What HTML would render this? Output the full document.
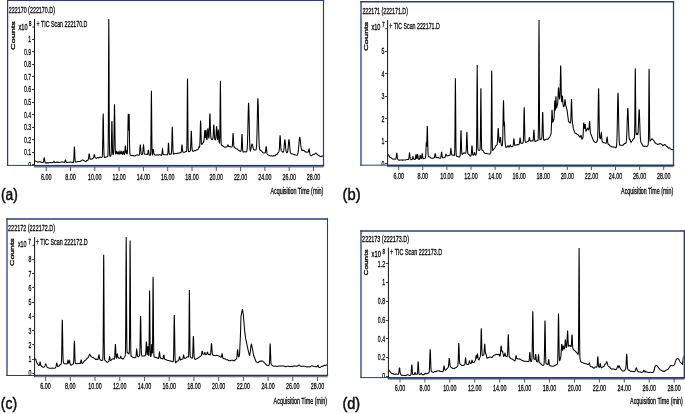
<!DOCTYPE html>
<html><head><meta charset="utf-8"><style>
html,body{margin:0;padding:0;background:#fff;width:685px;height:414px;overflow:hidden}
svg{display:block}
text{font-family:"Liberation Sans",sans-serif;stroke:#000;stroke-width:0.3px}
svg{will-change:transform}
</style></head><body>
<svg width="685" height="414" viewBox="0 0 685 414" font-family="Liberation Sans, sans-serif" fill="#111" stroke-linejoin="round">
<rect width="685" height="414" fill="#fff"/>
<clipPath id="ca"><rect x="7" y="0" width="316" height="165"/></clipPath>
<line x1="7.6" y1="-0.050000000000000044" x2="7.6" y2="165.9" stroke="#2a3d7a" stroke-width="1.25"/>
<line x1="323.5" y1="-0.050000000000000044" x2="323.5" y2="165.9" stroke="#2a3d7a" stroke-width="1.2"/>
<line x1="6.975" y1="0.5" x2="324.1" y2="0.5" stroke="#2a3d7a" stroke-width="1.1"/>
<line x1="6.975" y1="165.4" x2="324.1" y2="165.4" stroke="#2a3d7a" stroke-width="1"/>
<text x="8.70" y="12.90" font-size="9" text-anchor="start" font-weight="normal" textLength="46.30" lengthAdjust="spacingAndGlyphs">222170 (222170.D)</text>
<text transform="translate(14.50,49.80) rotate(-90)" font-size="5.9" font-weight="normal" textLength="28.50" lengthAdjust="spacingAndGlyphs">Counts</text>
<text x="18.50" y="29.60" font-size="8.6" text-anchor="start" font-weight="normal" textLength="9.00" lengthAdjust="spacingAndGlyphs" style="stroke-width:0.32px">x10</text>
<text x="29.00" y="26.00" font-size="6.4" text-anchor="start" font-weight="normal" textLength="2.40" lengthAdjust="spacingAndGlyphs" style="stroke-width:0.3px">8</text>
<text x="36.60" y="27.30" font-size="8.8" text-anchor="start" font-weight="normal" textLength="50.80" lengthAdjust="spacingAndGlyphs">+ TIC Scan 222170.D</text>
<line x1="34.5" y1="19" x2="34.5" y2="166" stroke="#111" stroke-width="1"/>
<line x1="32.2" y1="27.1" x2="34.5" y2="27.1" stroke="#111" stroke-width="0.8"/>
<line x1="32.0" y1="39.50" x2="34.5" y2="39.50" stroke="#222" stroke-width="0.9"/>
<text x="31.20" y="42.20" font-size="9" text-anchor="end" textLength="2.90" lengthAdjust="spacingAndGlyphs" clip-path="url(#ca)">1</text>
<line x1="32.0" y1="51.50" x2="34.5" y2="51.50" stroke="#222" stroke-width="0.9"/>
<text x="31.20" y="54.76" font-size="9" text-anchor="end" textLength="7.25" lengthAdjust="spacingAndGlyphs" clip-path="url(#ca)">0.9</text>
<line x1="32.0" y1="64.50" x2="34.5" y2="64.50" stroke="#222" stroke-width="0.9"/>
<text x="31.20" y="67.32" font-size="9" text-anchor="end" textLength="7.25" lengthAdjust="spacingAndGlyphs" clip-path="url(#ca)">0.8</text>
<line x1="32.0" y1="76.50" x2="34.5" y2="76.50" stroke="#222" stroke-width="0.9"/>
<text x="31.20" y="79.88" font-size="9" text-anchor="end" textLength="7.25" lengthAdjust="spacingAndGlyphs" clip-path="url(#ca)">0.7</text>
<line x1="32.0" y1="89.50" x2="34.5" y2="89.50" stroke="#222" stroke-width="0.9"/>
<text x="31.20" y="92.44" font-size="9" text-anchor="end" textLength="7.25" lengthAdjust="spacingAndGlyphs" clip-path="url(#ca)">0.6</text>
<line x1="32.0" y1="102.50" x2="34.5" y2="102.50" stroke="#222" stroke-width="0.9"/>
<text x="31.20" y="105.00" font-size="9" text-anchor="end" textLength="7.25" lengthAdjust="spacingAndGlyphs" clip-path="url(#ca)">0.5</text>
<line x1="32.0" y1="114.50" x2="34.5" y2="114.50" stroke="#222" stroke-width="0.9"/>
<text x="31.20" y="117.56" font-size="9" text-anchor="end" textLength="7.25" lengthAdjust="spacingAndGlyphs" clip-path="url(#ca)">0.4</text>
<line x1="32.0" y1="127.50" x2="34.5" y2="127.50" stroke="#222" stroke-width="0.9"/>
<text x="31.20" y="130.12" font-size="9" text-anchor="end" textLength="7.25" lengthAdjust="spacingAndGlyphs" clip-path="url(#ca)">0.3</text>
<line x1="32.0" y1="139.50" x2="34.5" y2="139.50" stroke="#222" stroke-width="0.9"/>
<text x="31.20" y="142.68" font-size="9" text-anchor="end" textLength="7.25" lengthAdjust="spacingAndGlyphs" clip-path="url(#ca)">0.2</text>
<line x1="32.0" y1="152.50" x2="34.5" y2="152.50" stroke="#222" stroke-width="0.9"/>
<text x="31.20" y="155.24" font-size="9" text-anchor="end" textLength="7.25" lengthAdjust="spacingAndGlyphs" clip-path="url(#ca)">0.1</text>
<line x1="32.0" y1="164.50" x2="34.5" y2="164.50" stroke="#222" stroke-width="0.9"/>
<text x="31.20" y="167.80" font-size="9" text-anchor="end" textLength="2.90" lengthAdjust="spacingAndGlyphs" clip-path="url(#ca)">0</text>
<line x1="34.0" y1="167.0" x2="323.5" y2="167.0" stroke="#222" stroke-opacity="0.7" stroke-width="0.9"/>
<line x1="34.0" y1="165.85" x2="324.1" y2="165.85" stroke="#22356e" stroke-width="1.5"/>
<line x1="46.22" y1="167" x2="46.22" y2="171" stroke="#444" stroke-width="0.9"/>
<text x="46.22" y="179.60" font-size="9" text-anchor="middle" font-weight="normal" textLength="10.60" lengthAdjust="spacingAndGlyphs">6.00</text>
<line x1="70.52" y1="167" x2="70.52" y2="171" stroke="#444" stroke-width="0.9"/>
<text x="70.52" y="179.60" font-size="9" text-anchor="middle" font-weight="normal" textLength="10.60" lengthAdjust="spacingAndGlyphs">8.00</text>
<line x1="94.81" y1="167" x2="94.81" y2="171" stroke="#444" stroke-width="0.9"/>
<text x="94.81" y="179.60" font-size="9" text-anchor="middle" font-weight="normal" textLength="13.40" lengthAdjust="spacingAndGlyphs">10.00</text>
<line x1="119.11" y1="167" x2="119.11" y2="171" stroke="#444" stroke-width="0.9"/>
<text x="119.11" y="179.60" font-size="9" text-anchor="middle" font-weight="normal" textLength="13.40" lengthAdjust="spacingAndGlyphs">12.00</text>
<line x1="143.40" y1="167" x2="143.40" y2="171" stroke="#444" stroke-width="0.9"/>
<text x="143.40" y="179.60" font-size="9" text-anchor="middle" font-weight="normal" textLength="13.40" lengthAdjust="spacingAndGlyphs">14.00</text>
<line x1="167.70" y1="167" x2="167.70" y2="171" stroke="#444" stroke-width="0.9"/>
<text x="167.70" y="179.60" font-size="9" text-anchor="middle" font-weight="normal" textLength="13.40" lengthAdjust="spacingAndGlyphs">16.00</text>
<line x1="192.00" y1="167" x2="192.00" y2="171" stroke="#444" stroke-width="0.9"/>
<text x="192.00" y="179.60" font-size="9" text-anchor="middle" font-weight="normal" textLength="13.40" lengthAdjust="spacingAndGlyphs">18.00</text>
<line x1="216.29" y1="167" x2="216.29" y2="171" stroke="#444" stroke-width="0.9"/>
<text x="216.29" y="179.60" font-size="9" text-anchor="middle" font-weight="normal" textLength="13.40" lengthAdjust="spacingAndGlyphs">20.00</text>
<line x1="240.59" y1="167" x2="240.59" y2="171" stroke="#444" stroke-width="0.9"/>
<text x="240.59" y="179.60" font-size="9" text-anchor="middle" font-weight="normal" textLength="13.40" lengthAdjust="spacingAndGlyphs">22.00</text>
<line x1="264.88" y1="167" x2="264.88" y2="171" stroke="#444" stroke-width="0.9"/>
<text x="264.88" y="179.60" font-size="9" text-anchor="middle" font-weight="normal" textLength="13.40" lengthAdjust="spacingAndGlyphs">24.00</text>
<line x1="289.18" y1="167" x2="289.18" y2="171" stroke="#444" stroke-width="0.9"/>
<text x="289.18" y="179.60" font-size="9" text-anchor="middle" font-weight="normal" textLength="13.40" lengthAdjust="spacingAndGlyphs">26.00</text>
<line x1="313.48" y1="167" x2="313.48" y2="171" stroke="#444" stroke-width="0.9"/>
<text x="313.48" y="179.60" font-size="9" text-anchor="middle" font-weight="normal" textLength="13.40" lengthAdjust="spacingAndGlyphs">28.00</text>
<text x="270.40" y="194.40" font-size="8.4" text-anchor="start" font-weight="normal" textLength="53.00" lengthAdjust="spacingAndGlyphs">Acquisition Time (min)</text>
<text x="0.90" y="199.60" font-size="16" style="stroke-width:0.45px" textLength="16.90" lengthAdjust="spacingAndGlyphs">(a)</text>
<polyline fill="none" stroke="#000" stroke-width="1.05" stroke-linejoin="miter" stroke-miterlimit="3" points="35.00,160.84 35.20,160.95 35.40,161.05 35.60,161.15 35.80,161.26 36.00,161.36 36.20,161.45 36.40,161.53 36.60,161.61 36.80,161.69 37.00,161.77 37.20,161.85 37.40,161.91 37.60,161.97 37.80,162.03 38.00,162.09 38.20,162.15 38.40,162.14 38.60,162.05 38.80,161.97 39.00,161.88 39.20,161.80 39.40,161.71 39.60,161.73 39.80,161.75 40.00,161.77 40.20,161.80 40.40,161.82 40.60,161.89 40.80,162.00 41.00,162.12 41.20,162.24 41.40,162.36 41.60,162.48 41.80,162.46 42.00,162.45 42.20,162.43 42.40,162.42 42.60,162.40 42.80,162.40 43.00,162.39 43.20,162.27 43.40,161.88 43.60,161.04 43.80,159.78 44.00,158.53 44.20,158.00 44.40,158.55 44.60,159.81 44.80,161.11 45.00,162.03 45.20,162.56 45.40,162.82 45.60,162.97 45.80,163.08 46.00,163.20 46.20,163.08 46.40,162.96 46.60,162.84 46.80,162.72 47.00,162.60 47.20,162.60 47.40,162.72 47.60,162.85 47.80,162.97 48.00,163.10 48.20,163.22 48.40,163.07 48.60,162.92 48.80,162.78 49.00,162.63 49.20,162.48 49.40,162.41 49.60,162.43 49.80,162.46 50.00,162.48 50.20,162.50 50.40,162.52 50.60,162.57 50.80,162.62 51.00,162.66 51.20,162.71 51.40,162.76 51.60,162.76 51.80,162.72 52.00,162.68 52.20,162.62 52.40,162.57 52.60,162.51 52.80,162.50 53.00,162.48 53.20,162.43 53.40,162.25 53.60,161.88 53.80,161.41 54.00,161.20 54.20,161.45 54.40,161.94 54.60,162.33 54.80,162.52 55.00,162.57 55.20,162.58 55.40,162.58 55.60,162.57 55.80,162.57 56.00,162.51 56.20,162.38 56.40,162.26 56.60,162.13 56.80,162.00 57.00,161.88 57.20,161.98 57.40,162.08 57.60,162.19 57.80,162.29 58.00,162.40 58.20,162.43 58.40,162.38 58.60,162.34 58.80,162.29 59.00,162.24 59.20,162.19 59.40,162.21 59.60,162.23 59.80,162.25 60.00,162.26 60.20,162.28 60.40,162.27 60.60,162.24 60.80,162.20 61.00,162.16 61.20,162.13 61.40,162.09 61.60,162.08 61.80,162.06 62.00,162.05 62.20,162.04 62.40,162.02 62.60,162.03 62.80,162.06 63.00,162.09 63.20,162.15 63.40,162.20 63.60,162.26 63.80,162.30 64.00,162.34 64.20,162.36 64.40,162.35 64.60,162.24 64.80,161.91 65.00,161.29 65.20,160.53 65.40,159.99 65.50,159.92 65.60,160.01 65.80,160.60 66.00,161.42 66.20,162.07 66.40,162.44 66.60,162.60 66.80,162.66 67.00,162.64 67.20,162.57 67.40,162.49 67.60,162.41 67.80,162.33 68.00,162.26 68.20,162.27 68.40,162.29 68.60,162.31 68.80,162.33 69.00,162.34 69.20,162.32 69.40,162.26 69.60,162.19 69.80,162.13 70.00,162.06 70.20,162.00 70.40,162.05 70.60,162.09 70.80,162.14 71.00,162.18 71.20,162.23 71.40,162.24 71.60,162.23 71.80,162.21 72.00,162.20 72.20,162.15 72.40,162.11 72.60,162.20 72.80,162.30 73.00,162.39 73.20,162.44 73.40,162.31 73.60,161.43 73.80,158.89 74.00,154.21 74.20,148.93 74.40,146.48 74.60,148.81 74.80,153.99 75.00,158.56 75.20,161.00 75.40,161.84 75.60,162.02 75.80,162.02 76.00,162.00 76.20,161.98 76.40,161.96 76.60,161.94 76.80,161.91 77.00,161.83 77.20,161.74 77.40,161.66 77.60,161.57 77.80,161.49 78.00,161.45 78.20,161.48 78.40,161.51 78.60,161.53 78.80,161.56 79.00,161.58 79.20,161.57 79.40,161.56 79.60,161.55 79.80,161.54 80.00,161.54 80.20,161.45 80.40,161.33 80.60,161.20 80.80,161.08 81.00,160.95 81.20,160.81 81.40,160.68 81.60,160.54 81.80,160.38 82.00,160.21 82.20,160.03 82.40,159.94 82.60,159.93 82.80,159.94 83.00,159.99 83.20,160.19 83.40,160.43 83.60,160.50 83.80,160.58 84.00,160.67 84.20,160.75 84.40,160.81 84.60,160.93 84.80,161.11 85.00,161.28 85.20,161.45 85.40,161.61 85.60,161.76 85.80,161.68 86.00,161.60 86.20,161.30 86.40,161.01 86.60,160.71 86.80,160.53 87.00,160.48 87.20,160.43 87.40,160.37 87.60,160.32 87.80,160.25 88.00,159.96 88.20,159.65 88.40,159.00 88.60,157.78 88.80,156.02 89.00,154.36 89.20,153.69 89.40,154.38 89.60,155.99 89.80,157.63 90.00,158.74 90.20,159.20 90.40,159.33 90.60,159.32 90.80,159.26 91.00,159.20 91.20,159.13 91.40,159.11 91.60,159.10 91.80,159.08 92.00,159.07 92.20,159.05 92.40,158.87 92.60,158.69 92.80,158.51 93.00,158.31 93.20,158.14 93.40,157.88 93.60,157.41 93.80,156.56 94.00,155.53 94.20,154.78 94.30,154.68 94.40,154.78 94.60,155.47 94.80,156.44 95.00,157.22 95.20,157.63 95.40,157.77 95.60,157.84 95.80,157.94 96.00,158.03 96.20,158.12 96.40,158.21 96.60,158.31 96.80,158.16 97.00,158.01 97.20,157.87 97.40,157.72 97.60,157.57 97.80,157.54 98.00,157.61 98.20,157.68 98.40,157.76 98.60,157.83 98.80,157.90 99.00,157.76 99.20,157.61 99.40,157.46 99.60,157.32 99.80,157.17 100.00,157.12 100.20,157.20 100.40,157.28 100.60,157.35 100.80,157.43 101.00,157.51 101.20,157.51 101.40,157.51 101.60,157.51 101.80,157.50 102.00,157.40 102.20,156.77 102.40,154.28 102.60,147.38 102.80,134.60 103.00,120.12 103.20,113.48 103.40,120.11 103.60,134.57 103.80,147.35 104.00,154.24 104.20,156.72 104.40,157.32 104.60,157.39 104.80,157.37 105.00,157.34 105.20,157.24 105.40,157.15 105.60,157.12 105.80,157.08 106.00,157.04 106.20,157.01 106.40,156.97 106.60,156.92 106.80,156.86 107.00,156.79 107.20,156.72 107.40,156.65 107.60,156.57 107.80,156.27 108.00,154.09 108.20,142.49 108.40,106.69 108.60,49.65 108.80,18.67 109.00,49.66 109.20,106.65 109.40,142.40 109.60,153.95 109.80,156.07 110.00,156.26 110.20,156.22 110.40,156.16 110.60,156.10 110.80,155.96 111.00,155.28 111.20,152.65 111.40,145.54 111.60,133.46 111.80,122.80 111.90,121.09 112.00,122.62 112.20,133.03 112.40,144.86 112.60,151.72 112.80,154.10 113.00,154.58 113.20,154.57 113.40,154.23 113.60,152.72 113.80,147.75 114.00,136.45 114.20,119.81 114.40,106.34 114.50,104.30 114.60,106.25 114.80,119.54 115.00,136.06 115.20,147.34 115.40,152.25 115.60,153.68 115.80,153.90 116.00,153.54 116.20,152.68 116.40,151.49 116.60,150.93 116.80,151.53 117.00,152.69 117.20,153.52 117.40,153.85 117.60,153.68 117.80,153.14 118.00,152.36 118.20,151.98 118.40,152.41 118.60,153.24 118.80,153.89 119.00,154.19 119.20,154.19 119.40,153.86 119.60,153.03 119.80,151.86 120.00,151.20 120.20,151.67 120.40,152.75 120.60,153.57 120.80,153.89 121.00,153.77 121.20,153.12 121.40,152.15 121.60,151.71 121.80,152.38 122.00,153.47 122.20,154.12 122.40,154.30 122.60,154.16 122.80,153.67 123.00,152.61 123.20,151.38 123.40,150.80 123.60,151.58 123.80,153.00 124.00,154.04 124.20,154.44 124.40,154.35 124.60,153.81 124.80,152.37 125.00,149.73 125.20,146.77 125.40,145.53 125.60,147.00 125.80,150.06 126.00,152.78 126.20,152.98 126.40,151.19 126.60,150.28 126.80,151.30 127.00,153.23 127.20,154.32 127.40,152.01 127.60,146.36 127.80,136.35 128.00,124.03 128.20,115.15 128.30,113.89 128.40,115.20 128.60,124.10 128.80,130.37 129.00,116.24 129.10,113.95 129.20,116.13 129.40,130.05 129.60,144.70 129.80,152.36 130.00,154.69 130.20,155.14 130.40,155.22 130.60,155.26 130.80,155.31 131.00,155.37 131.20,155.43 131.40,155.49 131.60,155.55 131.80,155.61 132.00,155.58 132.20,155.55 132.40,155.52 132.60,155.49 132.80,155.47 133.00,155.49 133.20,155.58 133.40,155.66 133.60,155.75 133.80,155.83 134.00,155.91 134.20,155.92 134.40,155.92 134.60,155.92 134.80,155.93 135.00,155.93 135.20,155.85 135.40,155.71 135.60,155.58 135.80,155.44 136.00,155.30 136.20,155.16 136.40,155.11 136.60,155.05 136.80,155.00 137.00,154.94 137.20,154.89 137.40,154.88 137.60,154.91 137.80,154.94 138.00,154.97 138.20,155.01 138.40,155.04 138.60,155.12 138.80,155.20 139.00,155.24 139.20,155.14 139.40,154.64 139.60,153.21 139.80,150.58 140.00,147.40 140.20,145.05 140.30,144.65 140.40,144.88 140.60,146.89 140.80,149.93 141.00,152.40 141.20,153.81 141.40,154.41 141.60,154.61 141.80,154.62 142.00,154.55 142.20,154.44 142.40,154.21 142.60,153.60 142.80,152.25 143.00,150.07 143.20,147.37 143.40,145.44 143.50,145.19 143.60,145.51 143.80,147.59 144.00,150.36 144.20,152.52 144.40,153.71 144.60,154.14 144.80,154.21 145.00,154.16 145.20,154.18 145.40,154.19 145.60,154.20 145.80,154.21 146.00,154.22 146.20,154.25 146.40,154.29 146.60,154.32 146.80,154.36 147.00,154.40 147.20,154.42 147.40,154.46 147.60,154.27 147.80,153.58 148.00,152.19 148.20,150.61 148.40,149.92 148.60,150.74 148.80,152.49 149.00,154.03 149.20,154.89 149.40,155.23 149.60,155.31 149.80,155.34 150.00,155.35 150.20,155.34 150.40,155.23 150.60,154.22 150.80,148.79 151.00,132.05 151.20,105.39 151.40,90.87 151.60,105.27 151.80,131.92 152.00,148.64 152.20,154.07 152.40,154.41 152.60,153.36 152.80,151.70 153.00,150.01 153.20,149.24 153.40,149.83 153.60,151.34 153.80,152.88 154.00,153.98 154.20,154.51 154.40,154.70 154.60,154.75 154.80,154.76 155.00,154.81 155.20,154.89 155.40,154.97 155.60,155.06 155.80,155.14 156.00,155.23 156.20,155.13 156.40,155.04 156.60,154.95 156.80,154.86 157.00,154.76 157.20,154.76 157.40,154.86 157.60,154.96 157.80,155.05 158.00,155.15 158.20,155.25 158.40,155.13 158.60,155.01 158.80,154.89 159.00,154.77 159.20,154.64 159.40,154.61 159.60,154.67 159.80,154.73 160.00,154.79 160.20,154.84 160.40,154.90 160.60,155.00 160.80,155.10 161.00,155.19 161.20,155.29 161.40,155.37 161.60,155.27 161.80,154.73 162.00,153.40 162.20,151.20 162.40,149.25 162.50,148.91 162.60,149.15 162.80,150.99 163.00,153.07 163.20,154.29 163.40,154.71 163.60,154.80 163.80,154.80 164.00,154.79 164.20,154.78 164.40,154.77 164.60,154.76 164.80,154.75 165.00,154.77 165.20,154.77 165.40,154.77 165.60,154.77 165.80,154.77 166.00,154.78 166.20,154.80 166.40,154.81 166.60,154.83 166.80,154.85 167.00,154.86 167.20,154.78 167.40,154.67 167.60,154.39 167.80,153.47 168.00,151.01 168.20,146.93 168.40,143.41 168.50,142.88 168.60,143.47 168.80,147.12 169.00,151.25 169.20,153.68 169.40,154.40 169.60,154.47 169.80,154.38 170.00,154.26 170.20,154.13 170.40,154.10 170.60,154.18 170.80,154.25 171.00,154.30 171.20,154.21 171.40,153.48 171.60,150.71 171.80,144.50 172.00,135.39 172.20,128.03 172.30,126.90 172.40,127.94 172.60,135.18 172.80,144.24 173.00,150.39 173.20,153.11 173.40,153.94 173.60,154.14 173.80,154.04 174.00,153.91 174.20,153.78 174.40,153.65 174.60,153.52 174.80,153.47 175.00,153.49 175.20,153.49 175.40,153.49 175.60,153.48 175.80,153.48 176.00,153.46 176.20,153.44 176.40,153.42 176.60,153.41 176.80,153.39 177.00,153.36 177.20,153.33 177.40,153.29 177.60,153.26 177.80,153.22 178.00,153.19 178.20,153.16 178.40,153.14 178.60,153.11 178.80,153.09 179.00,153.06 179.20,153.01 179.40,152.94 179.60,152.86 179.80,152.79 180.00,152.71 180.20,152.67 180.40,152.69 180.60,152.72 180.80,152.72 181.00,152.64 181.20,152.21 181.40,150.94 181.60,148.56 181.80,145.87 182.00,144.61 182.20,145.76 182.40,148.34 182.60,150.60 182.80,151.78 183.00,152.17 183.20,152.22 183.40,152.17 183.60,152.15 183.80,152.16 184.00,152.18 184.20,152.19 184.40,152.20 184.60,152.22 184.80,152.09 185.00,151.96 185.20,151.83 185.40,151.71 185.60,151.58 185.80,151.53 186.00,151.57 186.20,151.60 186.40,151.61 186.60,151.26 186.80,148.51 187.00,136.86 187.20,110.53 187.40,83.11 187.50,78.59 187.60,83.09 187.80,110.46 188.00,136.77 188.20,148.40 188.40,151.21 188.60,151.60 188.80,151.65 189.00,151.66 189.20,151.55 189.40,151.45 189.60,151.34 189.80,151.24 190.00,151.11 190.20,150.92 190.40,150.31 190.60,148.31 190.80,143.78 191.00,137.12 191.20,131.75 191.30,130.94 191.40,131.73 191.60,137.06 191.80,143.68 192.00,148.17 192.20,150.12 192.40,150.75 192.60,150.96 192.80,151.06 193.00,151.15 193.20,151.24 193.40,151.32 193.60,151.16 193.80,151.00 194.00,150.84 194.20,150.68 194.40,150.51 194.60,150.46 194.80,150.53 195.00,150.59 195.20,150.61 195.40,150.62 195.60,150.64 195.80,150.47 196.00,150.30 196.20,150.14 196.40,149.97 196.60,149.81 196.80,149.71 197.00,149.70 197.20,149.68 197.40,149.67 197.60,149.65 197.80,149.63 198.00,149.57 198.20,149.23 198.40,148.64 198.60,147.78 198.80,147.00 198.90,146.81 199.00,146.72 199.20,146.93 199.40,147.22 199.60,146.97 199.80,145.16 200.00,140.77 200.20,133.12 200.40,124.49 200.60,120.42 200.80,124.09 201.00,132.32 201.20,139.51 201.40,143.21 201.60,144.34 201.80,144.38 202.00,144.12 202.20,143.81 202.40,143.59 202.60,143.36 202.80,143.13 203.00,142.91 203.20,142.68 203.40,142.42 203.60,142.08 203.80,141.47 204.00,140.20 204.20,137.99 204.40,134.74 204.60,131.65 204.80,130.33 205.00,131.64 205.20,134.73 205.40,137.88 205.60,136.22 205.80,131.91 206.00,129.73 206.20,131.59 206.40,135.59 206.60,138.69 206.80,140.03 207.00,139.50 207.20,137.83 207.40,134.96 207.60,131.47 207.80,128.91 207.90,128.49 208.00,128.77 208.20,131.06 208.40,134.30 208.60,136.90 208.80,138.32 209.00,137.15 209.20,133.63 209.40,127.42 209.60,119.80 209.80,114.29 209.90,113.49 210.00,114.21 210.20,119.68 210.40,127.26 210.60,133.43 210.80,136.91 211.00,138.36 211.20,138.88 211.40,139.06 211.60,139.15 211.80,139.22 212.00,139.29 212.20,139.39 212.40,139.49 212.60,139.48 212.80,139.11 213.00,137.85 213.20,135.09 213.40,130.75 213.60,126.49 213.80,124.66 214.00,126.41 214.20,130.58 214.40,134.86 214.60,137.76 214.80,139.16 215.00,139.66 215.20,139.83 215.40,139.74 215.60,139.39 215.80,138.19 216.00,135.60 216.20,131.67 216.40,127.83 216.60,126.25 216.80,128.01 217.00,132.04 217.20,136.16 217.40,138.95 217.60,139.89 217.80,137.52 218.00,133.42 218.20,130.00 218.30,129.55 218.40,130.21 218.60,134.05 218.80,138.44 219.00,141.19 219.20,142.39 219.40,142.86 219.60,142.24 219.80,137.28 220.00,121.00 220.20,94.93 220.40,80.85 220.60,95.29 220.80,121.71 221.00,138.40 221.20,143.85 221.40,144.96 221.60,145.21 221.80,145.36 222.00,145.51 222.20,145.62 222.40,145.72 222.60,145.83 222.80,145.94 223.00,146.05 223.20,146.19 223.40,146.36 223.60,146.53 223.80,146.70 224.00,146.88 224.20,147.05 224.40,147.11 224.60,147.16 224.80,147.22 225.00,147.27 225.20,147.17 225.40,147.11 225.60,147.08 225.80,147.06 226.00,147.04 226.20,147.02 226.40,146.99 226.60,146.93 226.80,146.85 227.00,146.73 227.20,146.51 227.40,146.10 227.60,145.58 227.80,145.13 228.00,144.96 228.20,145.22 228.40,145.77 228.60,146.33 228.80,146.62 229.00,146.73 229.20,146.73 229.40,146.69 229.60,146.64 229.80,146.61 230.00,146.61 230.20,146.71 230.40,146.80 230.60,146.89 230.80,146.98 231.00,146.98 231.20,146.98 231.40,146.97 231.60,146.97 231.80,146.95 232.00,146.88 232.20,146.49 232.40,145.14 232.60,142.03 232.80,137.42 233.00,133.72 233.10,133.18 233.20,133.76 233.40,137.53 233.60,142.20 233.80,145.38 234.00,146.80 234.20,147.28 234.40,147.48 234.60,147.61 234.80,147.72 235.00,147.83 235.20,148.00 235.40,148.15 235.60,148.30 235.80,148.46 236.00,148.61 236.20,148.76 236.40,148.86 236.60,148.91 236.80,148.96 237.00,149.01 237.20,149.06 237.40,149.12 237.60,149.34 237.80,149.56 238.00,149.78 238.20,150.00 238.40,150.22 238.60,150.38 238.80,150.48 239.00,150.59 239.20,150.69 239.40,150.79 239.60,150.90 239.80,151.02 240.00,151.14 240.20,151.19 240.40,151.25 240.60,151.29 240.80,151.28 241.00,151.04 241.20,150.06 241.40,147.35 241.60,142.30 241.80,136.58 242.00,134.11 242.20,136.88 242.40,142.75 242.60,147.95 242.80,150.82 243.00,151.85 243.20,152.04 243.40,152.03 243.60,151.98 243.80,151.93 244.00,151.87 244.20,151.86 244.40,151.85 244.60,151.83 244.80,151.82 245.00,151.81 245.20,151.81 245.40,151.84 245.60,151.87 245.80,151.89 246.00,151.92 246.20,151.93 246.40,151.83 246.60,151.64 246.80,151.22 247.00,150.30 247.20,148.40 247.40,145.00 247.60,139.49 247.80,131.62 248.00,122.10 248.20,112.63 248.40,105.58 248.60,102.89 248.80,105.54 249.00,112.70 249.20,122.28 249.40,131.91 249.60,139.89 249.80,145.49 250.00,148.91 250.20,150.64 250.40,150.97 250.60,150.29 250.80,149.44 251.00,148.42 251.20,147.28 251.40,146.14 251.60,145.16 251.80,144.43 252.00,144.06 252.20,144.13 252.40,144.61 252.60,145.38 252.80,146.31 253.00,147.29 253.20,148.16 253.40,148.86 253.60,149.35 253.80,149.67 254.00,149.86 254.20,149.97 254.40,150.01 254.60,150.01 254.80,149.99 255.00,149.95 255.20,149.98 255.40,150.00 255.60,150.00 255.80,149.94 256.00,149.73 256.20,149.17 256.40,147.85 256.60,145.20 256.80,140.52 257.00,133.37 257.20,123.97 257.40,113.55 257.60,104.39 257.80,98.98 257.90,98.25 258.00,98.96 258.20,104.31 258.40,113.45 258.60,123.91 258.80,133.39 259.00,140.63 259.20,145.40 259.40,148.14 259.60,149.33 259.80,149.78 260.00,149.86 260.20,149.99 260.40,150.07 260.60,150.19 260.80,150.39 261.00,150.58 261.20,150.77 261.40,150.96 261.60,151.15 261.80,151.45 262.00,151.75 262.20,151.92 262.40,152.09 262.60,152.25 262.80,152.40 263.00,152.53 263.20,152.65 263.40,152.78 263.60,152.90 263.80,153.03 264.00,153.00 264.20,152.96 264.40,152.93 264.60,152.89 264.80,152.85 265.00,152.84 265.20,152.78 265.40,152.27 265.60,151.02 265.80,149.07 266.00,147.16 266.20,146.33 266.40,147.28 266.60,149.44 266.80,151.65 267.00,153.15 267.20,153.94 267.40,154.33 267.60,154.54 267.80,154.70 268.00,154.84 268.20,154.98 268.40,155.05 268.60,155.11 268.80,155.18 269.00,155.24 269.20,155.31 269.40,155.41 269.60,155.54 269.80,155.68 270.00,155.82 270.20,155.87 270.40,155.93 270.60,155.90 270.80,155.87 271.00,155.83 271.20,155.80 271.40,155.77 271.60,155.80 271.80,155.88 272.00,155.96 272.20,156.04 272.40,156.12 272.60,156.20 272.80,156.09 273.00,155.97 273.20,155.86 273.40,155.75 273.60,155.63 273.80,155.61 274.00,155.68 274.20,155.74 274.40,155.81 274.60,155.88 274.80,155.95 275.00,155.90 275.20,155.63 275.40,155.36 275.60,155.09 275.80,154.82 276.00,154.66 276.20,154.61 276.40,154.57 276.60,154.52 276.80,154.47 277.00,154.43 277.20,154.12 277.40,153.80 277.60,153.49 277.80,153.18 278.00,152.87 278.20,152.55 278.40,152.33 278.60,152.10 278.80,151.81 279.00,151.33 279.20,150.28 279.40,147.91 279.60,144.00 279.80,139.27 280.00,135.76 280.10,135.36 280.20,135.87 280.40,139.13 280.60,143.62 280.80,147.30 281.00,149.43 281.20,150.39 281.40,150.78 281.60,151.03 281.80,151.22 282.00,151.40 282.20,151.59 282.40,151.77 282.60,151.95 282.80,152.13 283.00,152.28 283.20,152.18 283.40,151.89 283.60,151.27 283.80,150.15 284.00,148.40 284.20,146.10 284.40,143.55 284.60,141.32 284.80,140.02 284.90,139.87 285.00,140.07 285.20,141.45 285.40,143.76 285.60,146.40 285.80,148.79 286.00,150.52 286.20,151.64 286.40,152.25 286.60,152.53 286.80,152.63 287.00,152.62 287.20,152.52 287.40,152.28 287.60,151.77 287.80,150.83 288.00,149.30 288.20,147.17 288.40,144.59 288.60,142.02 288.80,140.11 289.00,139.43 289.20,140.21 289.40,142.21 289.60,144.86 289.80,147.54 290.00,149.76 290.20,151.34 290.40,152.38 290.60,152.99 290.80,153.33 291.00,153.53 291.20,153.72 291.40,153.80 291.60,153.78 291.80,153.75 292.00,153.73 292.20,153.71 292.40,153.68 292.60,153.79 292.80,153.89 293.00,154.00 293.20,154.10 293.40,154.21 293.60,154.30 293.80,154.39 294.00,154.48 294.20,154.56 294.40,154.65 294.60,154.74 294.80,154.82 295.00,154.91 295.20,154.91 295.40,154.91 295.60,154.91 295.80,154.95 296.00,155.03 296.20,155.11 296.40,155.18 296.60,155.25 296.80,155.32 297.00,155.33 297.20,155.09 297.40,154.79 297.60,154.38 297.80,153.80 298.00,152.89 298.20,151.56 298.40,149.83 298.60,147.71 298.80,145.28 299.00,142.72 299.20,140.47 299.40,138.69 299.60,137.64 299.70,137.44 299.80,137.47 300.00,138.20 300.20,139.67 300.40,141.54 300.60,143.55 300.80,145.44 301.00,147.02 301.20,148.20 301.40,149.20 301.60,149.85 301.80,150.25 302.00,150.48 302.20,150.59 302.40,150.54 302.60,150.37 302.80,150.18 303.00,149.98 303.20,150.11 303.40,150.24 303.60,150.39 303.80,150.54 304.00,150.69 304.20,150.84 304.40,150.99 304.60,151.19 304.80,151.44 305.00,151.69 305.20,151.74 305.40,151.79 305.60,151.84 305.80,151.92 306.00,152.01 306.20,152.09 306.40,152.18 306.60,152.26 306.80,152.28 307.00,152.23 307.20,152.19 307.40,152.14 307.60,152.09 307.80,152.03 308.00,151.92 308.20,151.91 308.40,151.53 308.60,150.69 308.80,149.61 309.00,148.90 309.10,148.89 309.20,149.15 309.40,150.37 309.60,151.95 309.80,153.28 310.00,154.15 310.20,154.67 310.40,155.02 310.60,155.31 310.80,155.58 311.00,155.84 311.20,155.71 311.40,155.59 311.60,155.46 311.80,155.33 312.00,155.21 312.20,155.08 312.40,154.94 312.60,154.81 312.80,154.67 313.00,154.54 313.20,154.40 313.40,154.31 313.60,154.26 313.80,154.21 314.00,154.15 314.20,154.15 314.40,154.15 314.60,153.98 314.80,153.80 315.00,153.63 315.20,153.45 315.40,153.27 315.60,153.17 315.80,153.15 316.00,153.12 316.20,153.36 316.40,153.59 316.60,153.83 316.80,154.00 317.00,154.17 317.20,154.35 317.40,154.52 317.60,154.70 317.80,154.85 318.00,154.99 318.20,155.08 318.40,155.18 318.60,155.28 318.80,155.37 319.00,155.54 319.20,155.70 319.40,155.87 319.60,156.03 319.80,156.20 320.00,156.39 320.20,156.44 320.40,156.48 320.60,156.53 320.80,156.58 321.00,156.63 321.20,156.52 321.40,156.41 321.60,156.30 321.80,156.19 322.00,156.09 322.20,156.02 322.40,155.99 322.60,155.95 322.80,155.92 323.00,155.89" clip-path="url(#cap)"/>
<clipPath id="cap"><rect x="34.5" y="19" width="288.5" height="146.5"/></clipPath>
<clipPath id="cb"><rect x="361" y="1" width="312" height="164"/></clipPath>
<line x1="361.0" y1="1.1" x2="361.0" y2="165.7" stroke="#2a3d7a" stroke-width="1.3"/>
<line x1="673.5" y1="1.1" x2="673.5" y2="165.7" stroke="#2a3d7a" stroke-width="1.3"/>
<line x1="360.35" y1="1.75" x2="674.15" y2="1.75" stroke="#2a3d7a" stroke-width="1.3"/>
<line x1="360.35" y1="165.2" x2="674.15" y2="165.2" stroke="#2a3d7a" stroke-width="1"/>
<text x="362.40" y="14.00" font-size="9" text-anchor="start" font-weight="normal" textLength="45.50" lengthAdjust="spacingAndGlyphs">222171 (222171.D)</text>
<text transform="translate(367.70,50.80) rotate(-90)" font-size="5.9" font-weight="normal" textLength="29.00" lengthAdjust="spacingAndGlyphs">Counts</text>
<text x="371.40" y="30.30" font-size="8.6" text-anchor="start" font-weight="normal" textLength="9.00" lengthAdjust="spacingAndGlyphs" style="stroke-width:0.32px">x10</text>
<text x="382.00" y="26.50" font-size="6.6" text-anchor="start" font-weight="normal" textLength="2.70" lengthAdjust="spacingAndGlyphs" style="stroke-width:0.3px">7</text>
<text x="389.20" y="28.80" font-size="8.8" text-anchor="start" font-weight="normal" textLength="50.60" lengthAdjust="spacingAndGlyphs">+ TIC Scan 222171.D</text>
<line x1="387.6" y1="20.1" x2="387.6" y2="166" stroke="#111" stroke-width="1"/>
<line x1="385.3" y1="28.7" x2="387.6" y2="28.7" stroke="#111" stroke-width="0.8"/>
<line x1="385.1" y1="51.50" x2="387.6" y2="51.50" stroke="#222" stroke-width="0.9"/>
<text x="384.30" y="54.40" font-size="9" text-anchor="end" textLength="2.90" lengthAdjust="spacingAndGlyphs" clip-path="url(#cb)">5</text>
<line x1="385.1" y1="73.50" x2="387.6" y2="73.50" stroke="#222" stroke-width="0.9"/>
<text x="384.30" y="76.82" font-size="9" text-anchor="end" textLength="2.90" lengthAdjust="spacingAndGlyphs" clip-path="url(#cb)">4</text>
<line x1="385.1" y1="96.50" x2="387.6" y2="96.50" stroke="#222" stroke-width="0.9"/>
<text x="384.30" y="99.24" font-size="9" text-anchor="end" textLength="2.90" lengthAdjust="spacingAndGlyphs" clip-path="url(#cb)">3</text>
<line x1="385.1" y1="118.50" x2="387.6" y2="118.50" stroke="#222" stroke-width="0.9"/>
<text x="384.30" y="121.66" font-size="9" text-anchor="end" textLength="2.90" lengthAdjust="spacingAndGlyphs" clip-path="url(#cb)">2</text>
<line x1="385.1" y1="141.50" x2="387.6" y2="141.50" stroke="#222" stroke-width="0.9"/>
<text x="384.30" y="144.08" font-size="9" text-anchor="end" textLength="2.90" lengthAdjust="spacingAndGlyphs" clip-path="url(#cb)">1</text>
<line x1="385.1" y1="163.50" x2="387.6" y2="163.50" stroke="#222" stroke-width="0.9"/>
<text x="384.30" y="166.50" font-size="9" text-anchor="end" textLength="2.90" lengthAdjust="spacingAndGlyphs" clip-path="url(#cb)">0</text>
<line x1="387.1" y1="166.65" x2="673.5" y2="166.65" stroke="#222" stroke-opacity="0.7" stroke-width="0.9"/>
<line x1="387.1" y1="165.5" x2="674.15" y2="165.5" stroke="#22356e" stroke-width="1.5"/>
<line x1="398.70" y1="166.5" x2="398.70" y2="170" stroke="#444" stroke-width="0.9"/>
<text x="398.70" y="178.90" font-size="9" text-anchor="middle" font-weight="normal" textLength="10.60" lengthAdjust="spacingAndGlyphs">6.00</text>
<line x1="422.79" y1="166.5" x2="422.79" y2="170" stroke="#444" stroke-width="0.9"/>
<text x="422.79" y="178.90" font-size="9" text-anchor="middle" font-weight="normal" textLength="10.60" lengthAdjust="spacingAndGlyphs">8.00</text>
<line x1="446.88" y1="166.5" x2="446.88" y2="170" stroke="#444" stroke-width="0.9"/>
<text x="446.88" y="178.90" font-size="9" text-anchor="middle" font-weight="normal" textLength="13.40" lengthAdjust="spacingAndGlyphs">10.00</text>
<line x1="470.97" y1="166.5" x2="470.97" y2="170" stroke="#444" stroke-width="0.9"/>
<text x="470.97" y="178.90" font-size="9" text-anchor="middle" font-weight="normal" textLength="13.40" lengthAdjust="spacingAndGlyphs">12.00</text>
<line x1="495.06" y1="166.5" x2="495.06" y2="170" stroke="#444" stroke-width="0.9"/>
<text x="495.06" y="178.90" font-size="9" text-anchor="middle" font-weight="normal" textLength="13.40" lengthAdjust="spacingAndGlyphs">14.00</text>
<line x1="519.15" y1="166.5" x2="519.15" y2="170" stroke="#444" stroke-width="0.9"/>
<text x="519.15" y="178.90" font-size="9" text-anchor="middle" font-weight="normal" textLength="13.40" lengthAdjust="spacingAndGlyphs">16.00</text>
<line x1="543.24" y1="166.5" x2="543.24" y2="170" stroke="#444" stroke-width="0.9"/>
<text x="543.24" y="178.90" font-size="9" text-anchor="middle" font-weight="normal" textLength="13.40" lengthAdjust="spacingAndGlyphs">18.00</text>
<line x1="567.33" y1="166.5" x2="567.33" y2="170" stroke="#444" stroke-width="0.9"/>
<text x="567.33" y="178.90" font-size="9" text-anchor="middle" font-weight="normal" textLength="13.40" lengthAdjust="spacingAndGlyphs">20.00</text>
<line x1="591.42" y1="166.5" x2="591.42" y2="170" stroke="#444" stroke-width="0.9"/>
<text x="591.42" y="178.90" font-size="9" text-anchor="middle" font-weight="normal" textLength="13.40" lengthAdjust="spacingAndGlyphs">22.00</text>
<line x1="615.51" y1="166.5" x2="615.51" y2="170" stroke="#444" stroke-width="0.9"/>
<text x="615.51" y="178.90" font-size="9" text-anchor="middle" font-weight="normal" textLength="13.40" lengthAdjust="spacingAndGlyphs">24.00</text>
<line x1="639.60" y1="166.5" x2="639.60" y2="170" stroke="#444" stroke-width="0.9"/>
<text x="639.60" y="178.90" font-size="9" text-anchor="middle" font-weight="normal" textLength="13.40" lengthAdjust="spacingAndGlyphs">26.00</text>
<line x1="663.69" y1="166.5" x2="663.69" y2="170" stroke="#444" stroke-width="0.9"/>
<text x="663.69" y="178.90" font-size="9" text-anchor="middle" font-weight="normal" textLength="13.40" lengthAdjust="spacingAndGlyphs">28.00</text>
<text x="621.10" y="193.80" font-size="8.4" text-anchor="start" font-weight="normal" textLength="52.10" lengthAdjust="spacingAndGlyphs">Acquisition Time (min)</text>
<text x="342.60" y="199.70" font-size="16" style="stroke-width:0.45px" textLength="18.00" lengthAdjust="spacingAndGlyphs">(b)</text>
<polyline fill="none" stroke="#000" stroke-width="1.05" stroke-linejoin="miter" stroke-miterlimit="3" points="388.00,154.24 388.20,154.57 388.40,154.90 388.60,155.23 388.80,155.56 389.00,155.89 389.20,156.22 389.40,156.55 389.60,156.87 389.80,157.19 390.00,157.52 390.20,157.59 390.40,157.61 390.60,157.64 390.80,157.67 391.00,157.69 391.20,157.72 391.40,157.84 391.60,158.06 391.80,158.29 392.00,158.51 392.20,158.73 392.40,158.95 392.60,159.01 392.80,159.06 393.00,159.11 393.20,159.10 393.40,159.09 393.60,159.08 393.80,159.08 394.00,159.08 394.20,159.08 394.40,159.08 394.60,159.08 394.80,159.10 395.00,159.12 395.20,159.15 395.40,159.16 395.60,159.17 395.80,159.08 396.00,158.69 396.20,157.71 396.40,155.92 396.60,153.90 396.80,152.96 397.00,153.97 397.20,156.06 397.40,157.91 397.60,158.96 397.80,159.39 398.00,159.59 398.20,159.73 398.40,159.86 398.60,159.99 398.80,160.11 399.00,160.24 399.20,160.20 399.40,160.16 399.60,160.12 399.80,160.08 400.00,160.04 400.20,159.99 400.40,160.00 400.60,160.00 400.80,160.01 401.00,160.02 401.20,160.02 401.40,160.04 401.60,160.06 401.80,160.09 402.00,160.11 402.20,160.13 402.40,160.13 402.60,160.12 402.80,160.11 403.00,160.10 403.20,160.09 403.40,160.08 403.60,160.08 403.80,160.08 404.00,160.07 404.20,160.07 404.40,160.07 404.60,160.06 404.80,160.04 405.00,160.02 405.20,159.99 405.40,159.97 405.60,159.95 405.80,159.85 406.00,159.76 406.20,159.66 406.40,159.57 406.60,159.47 406.80,159.44 407.00,159.48 407.20,159.52 407.40,159.56 407.60,159.60 407.80,159.64 408.00,159.61 408.20,159.56 408.40,159.48 408.60,159.26 408.80,158.62 409.00,157.20 409.20,155.12 409.40,153.44 409.50,153.17 409.60,153.38 409.80,154.96 410.00,156.92 410.20,158.40 410.40,159.10 410.60,159.38 410.80,159.52 411.00,159.63 411.20,159.67 411.40,159.63 411.60,159.60 411.80,159.55 412.00,159.47 412.20,159.27 412.40,158.62 412.60,157.59 412.80,156.67 412.90,156.49 413.00,156.56 413.20,157.26 413.40,158.17 413.60,158.80 413.80,159.08 414.00,159.21 414.20,159.31 414.40,159.40 414.60,159.44 414.80,159.49 415.00,159.50 415.20,159.37 415.40,158.77 415.60,157.32 415.80,155.39 416.00,154.39 416.20,155.16 416.40,156.86 416.60,158.16 416.80,158.81 417.00,158.17 417.20,156.75 417.40,154.92 417.60,154.04 417.80,154.96 418.00,156.85 418.20,158.33 418.40,159.02 418.60,159.25 418.80,159.33 419.00,159.42 419.20,159.42 419.40,159.29 419.60,158.78 419.80,157.61 420.00,156.01 420.20,155.12 420.40,155.73 420.60,157.12 420.80,158.18 421.00,158.58 421.20,158.66 421.40,158.41 421.60,157.70 421.80,156.22 422.00,154.35 422.20,153.46 422.40,154.39 422.60,156.24 422.80,157.70 423.00,158.38 423.20,158.61 423.40,158.63 423.60,158.62 423.80,158.61 424.00,158.60 424.20,158.56 424.40,158.51 424.60,158.44 424.80,158.37 425.00,158.29 425.20,158.18 425.40,157.89 425.60,156.92 425.80,154.35 426.00,149.63 426.20,144.29 426.40,141.82 426.60,144.09 426.80,146.34 427.00,135.85 427.20,127.36 427.30,126.01 427.40,127.13 427.60,135.17 427.80,145.46 428.00,152.43 428.20,155.50 428.40,156.43 428.60,156.63 428.80,156.64 429.00,156.58 429.20,156.71 429.40,156.83 429.60,156.96 429.80,157.09 430.00,157.25 430.20,157.41 430.40,157.57 430.60,157.73 430.80,157.89 431.00,158.00 431.20,158.04 431.40,158.08 431.60,158.12 431.80,158.16 432.00,158.20 432.20,158.20 432.40,158.19 432.60,158.19 432.80,158.18 433.00,158.18 433.20,158.13 433.40,158.06 433.60,157.98 433.80,157.91 434.00,157.82 434.20,157.68 434.40,157.44 434.60,156.75 434.80,155.46 435.00,154.00 435.20,153.34 435.40,154.01 435.60,155.46 435.80,156.74 436.00,157.42 436.20,157.64 436.40,157.68 436.60,157.65 436.80,157.60 437.00,157.56 437.20,157.60 437.40,157.64 437.60,157.66 437.80,157.65 438.00,157.63 438.20,157.62 438.40,157.61 438.60,157.60 438.80,157.72 439.00,157.84 439.20,157.97 439.40,158.09 439.60,158.22 439.80,158.28 440.00,158.28 440.20,158.17 440.40,158.05 440.60,157.86 440.80,157.41 441.00,156.47 441.20,154.73 441.40,152.76 441.60,151.86 441.80,152.76 442.00,154.72 442.20,156.45 442.40,157.38 442.60,157.71 442.80,157.79 443.00,157.79 443.20,157.77 443.40,157.75 443.60,157.72 443.80,157.70 444.00,157.67 444.20,157.60 444.40,157.50 444.60,157.39 444.80,157.27 445.00,157.10 445.20,156.73 445.40,156.05 445.60,155.15 445.80,154.38 445.90,154.20 446.00,154.19 446.20,154.57 446.40,155.17 446.60,155.61 446.80,155.78 447.00,155.80 447.20,155.85 447.40,155.88 447.60,155.82 447.80,155.75 448.00,155.69 448.20,155.63 448.40,155.56 448.60,155.50 448.80,155.44 449.00,155.38 449.20,155.32 449.40,155.25 449.60,155.19 449.80,155.15 450.00,154.96 450.20,154.32 450.40,152.87 450.60,150.73 450.80,148.99 450.90,148.73 451.00,148.98 451.20,150.69 451.40,152.81 451.60,154.25 451.80,154.87 452.00,155.02 452.20,155.08 452.40,155.11 452.60,155.13 452.80,155.15 453.00,155.18 453.20,155.22 453.40,155.26 453.60,155.30 453.80,155.34 454.00,155.38 454.20,155.49 454.40,155.49 454.60,154.43 454.80,148.03 455.00,127.94 455.20,95.76 455.40,78.22 455.60,95.73 455.80,127.97 456.00,148.17 456.20,154.68 456.40,155.95 456.60,156.17 456.80,156.27 457.00,156.37 457.20,156.46 457.40,156.52 457.60,156.54 457.80,156.57 458.00,156.59 458.20,156.62 458.40,156.64 458.60,156.78 458.80,156.91 459.00,157.05 459.20,156.99 459.40,156.93 459.60,156.84 459.80,156.68 460.00,156.22 460.20,154.68 460.40,150.58 460.60,143.05 460.80,134.36 461.00,130.23 461.20,133.81 461.40,141.94 461.60,149.08 461.80,152.92 462.00,154.30 462.20,154.48 462.40,154.36 462.60,154.18 462.80,154.00 463.00,153.77 463.20,153.55 463.40,153.32 463.60,153.10 463.80,152.87 464.00,152.62 464.20,152.73 464.40,152.84 464.60,152.95 464.80,153.06 465.00,153.17 465.20,153.18 465.40,153.19 465.60,153.18 465.80,153.06 466.00,152.42 466.20,150.32 466.40,145.51 466.60,138.36 466.80,132.63 466.90,131.81 467.00,132.73 467.20,138.68 467.40,145.99 467.60,150.96 467.80,153.18 468.00,153.88 468.20,154.19 468.40,154.35 468.60,154.45 468.80,154.55 469.00,154.65 469.20,154.75 469.40,154.86 469.60,155.19 469.80,155.52 470.00,155.85 470.20,155.96 470.40,156.08 470.60,156.03 470.80,155.82 471.00,155.49 471.20,154.75 471.40,153.04 471.60,150.03 471.80,146.94 472.00,145.58 472.20,147.14 472.40,150.44 472.60,153.35 472.80,154.84 473.00,155.23 473.20,155.21 473.40,155.07 473.60,154.87 473.80,154.53 474.00,154.07 474.20,153.28 474.40,152.60 474.50,152.53 474.60,152.71 474.80,153.63 475.00,154.56 475.20,155.01 475.40,155.13 475.60,155.10 475.80,155.03 476.00,154.95 476.20,154.40 476.40,152.66 476.60,144.92 476.80,121.80 477.00,85.16 477.20,65.01 477.40,84.15 477.60,119.83 477.80,142.00 478.00,148.79 478.20,150.08 478.40,150.24 478.60,150.28 478.80,150.31 479.00,150.33 479.20,150.36 479.40,150.31 479.60,150.17 479.80,150.02 480.00,149.56 480.20,147.12 480.40,137.20 480.60,115.01 480.80,91.92 480.90,88.14 481.00,92.00 481.20,115.25 481.40,137.60 481.60,147.48 481.80,149.86 482.00,150.20 482.20,150.24 482.40,150.26 482.60,150.28 482.80,150.45 483.00,150.62 483.20,151.00 483.40,151.38 483.60,151.76 483.80,152.07 484.00,152.31 484.20,152.54 484.40,152.77 484.60,153.01 484.80,153.24 485.00,153.47 485.20,153.46 485.40,153.46 485.60,153.46 485.80,153.45 486.00,153.45 486.20,153.44 486.40,153.43 486.60,153.42 486.80,153.41 487.00,153.40 487.20,153.51 487.40,153.61 487.60,153.72 487.80,153.83 488.00,153.93 488.20,153.98 488.40,153.96 488.60,153.94 488.80,153.92 489.00,153.90 489.20,153.88 489.40,153.92 489.60,153.96 489.80,153.99 490.00,154.03 490.20,153.79 490.40,153.51 490.60,153.17 490.80,152.44 491.00,149.04 491.20,135.87 491.40,106.43 491.60,75.90 491.70,70.81 491.80,75.70 492.00,105.83 492.20,134.76 492.40,147.43 492.60,150.28 492.80,150.42 493.00,150.18 493.20,149.90 493.40,149.62 493.60,149.34 493.80,149.13 494.00,148.92 494.20,148.63 494.40,148.34 494.60,148.05 494.80,147.74 495.00,147.39 495.20,147.04 495.40,146.70 495.60,146.35 495.80,146.00 496.00,145.72 496.20,145.55 496.40,145.37 496.60,145.19 496.80,144.99 497.00,144.65 497.20,143.92 497.40,142.30 497.60,139.17 497.80,134.63 498.00,130.18 498.20,128.09 498.40,129.59 498.60,133.52 498.80,137.55 499.00,140.15 499.20,141.72 499.40,142.42 499.60,142.29 499.80,141.44 500.00,139.69 500.20,137.68 500.40,136.97 500.60,138.28 500.80,140.78 501.00,143.02 501.20,144.37 501.40,145.02 501.60,145.37 501.80,145.64 502.00,145.87 502.20,145.53 502.40,144.61 502.60,141.87 502.80,135.62 503.00,124.76 503.20,111.47 503.40,101.81 503.50,100.33 503.60,101.58 503.80,110.78 504.00,123.62 504.20,126.27 504.40,121.77 504.60,125.84 504.80,134.15 505.00,140.00 505.20,143.26 505.40,144.75 505.60,145.78 505.80,146.65 506.00,147.41 506.20,147.29 506.40,147.17 506.60,147.05 506.80,146.93 507.00,147.01 507.20,147.06 507.40,146.97 507.60,146.59 507.80,146.00 508.00,145.67 508.20,145.93 508.40,146.53 508.60,146.93 508.80,147.03 509.00,147.00 509.20,146.91 509.40,146.79 509.60,146.54 509.80,146.06 510.00,145.41 510.20,145.08 510.40,145.37 510.60,145.94 510.80,146.34 511.00,146.50 511.20,146.54 511.40,146.59 511.60,146.63 511.80,146.67 512.00,146.71 512.20,146.72 512.40,146.64 512.60,146.47 512.80,146.27 513.00,145.91 513.20,145.08 513.40,143.41 513.60,141.13 513.80,139.30 513.90,139.01 514.00,139.26 514.20,141.02 514.40,143.22 514.60,144.67 514.80,145.25 515.00,145.36 515.20,145.30 515.40,145.21 515.60,145.11 515.80,145.08 516.00,145.05 516.20,145.03 516.40,145.00 516.60,144.97 516.80,144.93 517.00,144.84 517.20,144.69 517.40,144.55 517.50,144.52 517.60,144.53 517.80,144.64 518.00,144.67 518.20,144.64 518.40,144.56 518.60,144.47 518.80,144.37 519.00,144.28 519.20,144.13 519.40,143.63 519.60,142.29 519.80,140.01 520.00,138.00 520.10,137.62 520.20,137.85 520.40,139.67 520.60,141.75 520.80,142.91 521.00,143.22 521.20,143.27 521.40,143.32 521.60,143.34 521.80,143.37 522.00,143.39 522.20,143.42 522.40,143.28 522.60,143.15 522.80,143.00 523.00,142.78 523.20,142.14 523.40,140.09 523.60,134.57 523.80,124.30 524.00,112.65 524.20,107.35 524.40,112.77 524.60,124.35 524.80,134.56 525.00,140.02 525.20,141.90 525.40,142.28 525.60,142.29 525.80,142.28 526.00,142.26 526.20,142.24 526.40,142.22 526.60,142.20 526.80,142.02 527.00,141.85 527.20,141.68 527.40,141.51 527.60,141.34 527.80,141.23 528.00,141.18 528.20,141.18 528.40,141.15 528.60,141.00 528.80,140.51 529.00,139.41 529.20,138.01 529.40,137.33 529.60,138.00 529.80,139.38 530.00,140.47 530.20,140.96 530.40,141.10 530.60,141.13 530.80,141.14 531.00,141.14 531.20,141.07 531.40,140.99 531.60,140.92 531.80,140.84 532.00,140.77 532.20,140.78 532.40,140.87 532.60,140.95 532.80,140.98 533.00,140.73 533.20,139.68 533.40,137.12 533.60,133.33 533.80,130.28 533.90,129.84 534.00,130.32 534.20,133.44 534.40,137.31 534.60,139.94 534.80,141.10 535.00,141.48 535.20,141.48 535.40,141.42 535.60,141.31 535.80,141.20 536.00,141.09 536.20,140.97 536.40,140.86 536.60,140.79 536.80,140.75 537.00,140.71 537.20,140.67 537.40,140.64 537.60,140.60 537.80,140.48 538.00,140.19 538.20,138.26 538.40,128.10 538.60,96.82 538.80,47.05 539.00,20.05 539.20,47.09 539.40,96.83 539.60,128.02 539.80,138.09 540.00,139.75 540.20,139.77 540.40,139.61 540.60,139.44 540.80,139.27 541.00,139.15 541.20,139.18 541.40,139.19 541.60,139.05 541.80,138.26 542.00,135.57 542.20,129.43 542.40,120.34 542.60,113.03 542.70,111.97 542.80,113.12 543.00,120.60 543.20,129.88 543.40,136.22 543.60,139.07 543.80,140.00 544.00,140.29 544.20,140.33 544.40,140.18 544.60,140.02 544.80,139.86 545.00,139.71 545.20,139.55 545.40,139.44 545.60,139.39 545.80,139.34 546.00,139.29 546.20,139.25 546.40,139.20 546.60,139.23 546.80,139.26 547.00,139.29 547.20,139.32 547.40,139.35 547.60,139.33 547.80,139.25 548.00,139.17 548.20,138.90 548.40,138.63 548.60,138.36 548.80,138.10 549.00,137.85 549.20,137.59 549.40,137.33 549.60,137.08 549.80,136.78 550.00,136.43 550.20,135.93 550.40,135.44 550.60,134.93 550.80,134.39 551.00,133.82 551.20,131.63 551.40,127.59 551.60,121.06 551.80,113.82 552.00,109.82 552.20,111.34 552.40,116.17 552.60,120.28 552.80,121.92 553.00,121.69 553.20,121.42 553.40,120.94 553.60,120.41 553.80,119.77 554.00,118.63 554.20,115.96 554.40,110.66 554.60,104.02 554.80,100.54 555.00,103.02 555.20,108.66 555.40,110.45 555.60,103.55 555.80,97.41 555.90,96.26 556.00,96.83 556.20,100.77 556.40,105.48 556.60,107.57 556.80,107.28 557.00,105.99 557.20,105.50 557.40,104.90 557.60,103.85 557.80,101.84 558.00,98.07 558.20,92.81 558.40,88.44 558.50,87.57 558.60,87.87 558.80,91.08 559.00,95.19 559.20,97.81 559.40,98.67 559.60,98.85 559.80,98.21 560.00,95.10 560.20,87.45 560.40,75.98 560.60,66.82 560.70,65.60 560.80,67.17 561.00,77.02 561.20,89.19 561.40,97.53 561.60,101.34 561.80,101.47 562.00,99.41 562.20,96.76 562.40,95.69 562.60,97.62 562.80,101.13 563.00,103.98 563.20,105.52 563.40,106.28 563.60,106.53 563.80,106.46 564.00,106.30 564.20,105.90 564.40,104.80 564.60,102.76 564.80,100.45 565.00,99.39 565.20,100.40 565.40,102.62 565.60,104.57 565.80,105.58 566.00,105.89 566.20,106.84 566.40,107.60 566.60,108.35 566.80,109.09 567.00,109.84 567.20,111.18 567.40,112.62 567.60,114.18 567.80,115.74 568.00,117.30 568.20,118.86 568.40,120.42 568.60,121.29 568.80,121.57 569.00,121.85 569.20,122.13 569.40,122.41 569.60,122.66 569.80,122.88 570.00,123.11 570.20,123.03 570.40,122.82 570.60,122.05 570.80,119.73 571.00,114.35 571.20,106.36 571.40,99.95 571.50,99.02 571.60,100.03 571.80,106.51 572.00,114.46 572.20,119.80 572.40,122.07 572.60,123.32 572.80,124.66 573.00,126.02 573.20,127.35 573.40,128.69 573.60,129.58 573.80,130.02 574.00,130.50 574.20,131.02 574.40,131.55 574.60,132.08 574.80,132.60 575.00,133.13 575.20,133.18 575.40,133.23 575.60,133.28 575.80,133.34 576.00,133.39 576.20,133.51 576.40,133.71 576.60,133.91 576.80,134.11 577.00,134.31 577.20,134.50 577.40,134.56 577.60,134.62 577.80,134.68 578.00,134.74 578.20,134.87 578.40,135.06 578.60,135.31 578.80,135.57 579.00,135.83 579.20,136.08 579.40,136.34 579.60,136.66 579.80,136.98 580.00,137.30 580.20,136.96 580.40,136.62 580.60,136.19 580.80,135.67 581.00,135.15 581.20,135.93 581.40,136.71 581.60,137.49 581.80,138.33 582.00,139.17 582.20,138.95 582.40,138.72 582.60,138.43 582.80,137.94 583.00,136.73 583.20,133.10 583.40,128.30 583.60,124.20 583.70,123.18 583.80,123.04 584.00,124.72 584.20,127.11 584.40,128.32 584.60,128.29 584.80,126.88 585.00,124.96 585.20,124.17 585.40,125.56 585.60,128.11 585.80,130.17 586.00,131.26 586.20,131.05 586.40,130.65 586.60,130.22 586.80,129.79 587.00,129.35 587.20,128.87 587.40,128.34 587.60,128.24 587.80,128.56 588.00,128.89 588.20,129.22 588.40,129.59 588.60,129.83 588.80,129.61 589.00,128.29 589.20,125.51 589.40,122.29 589.60,120.99 589.80,122.98 590.00,126.93 590.20,130.45 590.40,132.51 590.60,133.45 590.80,133.93 591.00,134.28 591.20,134.76 591.40,135.23 591.60,135.77 591.80,136.36 592.00,136.94 592.20,137.46 592.40,137.98 592.60,138.50 592.80,138.96 593.00,139.43 593.20,139.89 593.40,140.35 593.60,140.81 593.80,141.26 594.00,141.69 594.20,141.78 594.40,141.87 594.60,141.95 594.80,142.04 595.00,142.14 595.20,142.23 595.40,142.33 595.60,142.42 595.80,142.51 596.00,142.60 596.20,142.37 596.40,142.15 596.60,141.92 596.80,141.68 597.00,141.44 597.20,141.13 597.40,140.46 597.60,138.56 597.80,133.63 598.00,123.66 598.20,108.91 598.40,94.46 598.60,88.18 598.80,94.02 599.00,108.04 599.20,122.35 599.40,131.94 599.60,136.47 599.80,137.99 600.00,138.27 600.20,138.62 600.40,138.67 600.60,138.17 600.80,136.77 601.00,134.61 601.20,132.91 601.30,132.72 601.40,133.11 601.60,135.41 601.80,138.17 602.00,140.17 602.20,141.26 602.40,141.87 602.60,142.20 602.80,142.40 603.00,142.59 603.20,142.61 603.40,142.62 603.60,142.63 603.80,142.65 604.00,142.68 604.20,142.70 604.40,142.72 604.60,142.74 604.80,142.80 605.00,142.89 605.20,142.99 605.40,143.08 605.60,143.16 605.80,143.22 606.00,143.29 606.20,143.08 606.40,142.30 606.60,140.76 606.80,138.82 607.00,137.37 607.10,137.14 607.20,137.34 607.40,138.86 607.60,140.96 607.80,142.67 608.00,143.62 608.20,144.12 608.40,144.34 608.60,144.47 608.80,144.57 609.00,144.66 609.20,144.88 609.40,145.16 609.60,145.44 609.80,145.73 610.00,146.01 610.20,146.29 610.40,146.29 610.60,146.29 610.80,146.30 611.00,146.30 611.20,146.30 611.40,146.39 611.60,146.57 611.80,146.76 612.00,146.94 612.20,147.00 612.40,147.07 612.60,147.05 612.80,147.03 613.00,147.02 613.20,147.00 613.40,146.98 613.60,146.98 613.80,146.99 614.00,147.01 614.20,147.02 614.40,147.03 614.60,147.04 614.80,147.18 615.00,147.31 615.20,147.44 615.40,147.58 615.60,147.71 615.80,147.76 616.00,147.71 616.20,147.54 616.40,147.02 616.60,145.70 616.80,142.84 617.00,137.49 617.20,128.88 617.40,117.67 617.60,105.83 617.80,96.55 618.00,92.89 618.20,96.12 618.40,104.94 618.60,116.32 618.80,127.07 619.00,135.21 619.20,140.47 619.40,143.29 619.60,144.57 619.80,145.05 620.00,145.19 620.20,145.29 620.40,145.28 620.60,145.25 620.80,145.22 621.00,145.19 621.20,145.16 621.40,145.18 621.60,145.21 621.80,145.23 622.00,145.26 622.20,145.28 622.40,145.28 622.60,145.25 622.80,145.23 623.00,145.20 623.20,145.02 623.40,144.85 623.60,144.60 623.80,144.36 624.00,144.11 624.20,143.87 624.40,143.62 624.60,143.49 624.80,143.48 625.00,143.47 625.20,143.45 625.40,143.43 625.60,143.39 625.80,143.16 626.00,142.77 626.20,142.04 626.40,140.64 626.60,138.16 626.80,134.17 627.00,128.57 627.20,121.83 627.40,115.14 627.60,110.09 627.80,108.10 628.00,109.72 628.20,114.41 628.40,120.73 628.60,127.10 628.80,132.34 629.00,136.00 629.20,138.18 629.40,139.27 629.60,139.70 629.80,139.79 630.00,139.73 630.20,140.28 630.40,140.82 630.60,141.34 630.80,141.87 631.00,142.39 631.20,142.11 631.40,141.82 631.60,141.54 631.80,141.26 632.00,140.97 632.20,140.69 632.40,140.36 632.60,140.03 632.80,139.70 633.00,139.38 633.20,139.05 633.40,138.81 633.60,138.66 633.80,138.52 634.00,138.37 634.20,138.20 634.40,137.70 634.60,134.69 634.80,123.48 635.00,98.62 635.20,72.75 635.30,68.35 635.40,72.34 635.60,97.44 635.80,121.60 636.00,132.11 636.20,134.42 636.40,134.48 636.60,134.22 636.80,133.95 637.00,133.66 637.20,134.06 637.40,134.38 637.60,134.52 637.80,134.28 638.00,133.24 638.20,130.86 638.40,126.81 638.60,121.32 638.80,115.48 639.00,110.87 639.20,109.34 639.40,111.59 639.60,116.92 639.80,123.65 640.00,130.07 640.20,135.09 640.40,138.43 640.60,140.42 640.80,141.56 641.00,142.27 641.20,142.70 641.40,143.07 641.60,143.41 641.80,143.74 642.00,144.07 642.20,144.44 642.40,144.83 642.60,145.22 642.80,145.61 643.00,146.01 643.20,146.01 643.40,146.11 643.60,146.21 643.80,146.31 644.00,146.41 644.20,146.51 644.40,146.52 644.60,146.44 644.80,146.36 645.00,146.28 645.20,146.20 645.40,146.12 645.60,146.21 645.80,146.29 646.00,146.38 646.20,146.46 646.40,146.55 646.60,146.59 646.80,146.59 647.00,146.60 647.20,146.28 647.40,145.97 647.60,145.66 647.80,145.35 648.00,145.01 648.20,144.30 648.40,141.15 648.60,128.99 648.80,101.82 649.00,73.52 649.10,68.73 649.20,73.14 649.40,100.70 649.60,127.16 649.80,138.63 650.00,141.10 650.20,141.12 650.40,140.77 650.60,140.40 650.80,140.02 651.00,139.73 651.20,139.53 651.40,139.32 651.60,139.11 651.80,138.91 652.00,138.70 652.20,138.91 652.40,139.12 652.60,139.33 652.80,139.54 653.00,139.75 653.20,139.99 653.40,140.26 653.60,140.53 653.80,140.79 654.00,141.06 654.20,141.33 654.40,141.67 654.60,142.01 654.80,142.34 655.00,142.68 655.20,142.89 655.40,143.06 655.60,143.19 655.80,143.31 656.00,143.43 656.20,143.56 656.40,143.68 656.60,143.79 656.80,143.89 657.00,144.00 657.20,144.10 657.40,144.21 657.60,144.31 657.80,144.39 658.00,144.47 658.20,144.34 658.40,144.20 658.60,144.07 658.80,144.02 659.00,143.98 659.20,143.93 659.40,143.89 659.60,143.84 659.80,143.75 660.00,143.60 660.20,143.65 660.40,143.70 660.60,143.75 660.80,143.80 661.00,143.91 661.20,144.03 661.40,144.14 661.60,144.26 661.80,144.37 662.00,144.55 662.20,144.78 662.40,145.01 662.60,145.24 662.80,145.47 663.00,145.70 663.20,145.53 663.40,145.35 663.60,145.18 663.80,145.00 664.00,144.83 664.20,144.72 664.40,144.67 664.60,144.62 664.80,144.57 665.00,144.52 665.20,144.78 665.40,145.04 665.60,145.29 665.80,145.54 666.00,145.79 666.20,146.04 666.40,146.22 666.60,146.32 666.80,146.43 667.00,146.53 667.20,146.63 667.40,146.73 667.60,147.06 667.80,147.38 668.00,147.70 668.20,147.89 668.40,148.09 668.60,148.17 668.80,148.12 669.00,148.08 669.20,148.03 669.40,147.99 669.60,147.94 669.80,148.13 670.00,148.32 670.20,148.51 670.40,148.70 670.60,148.90 670.80,149.03 671.00,149.11 671.20,149.23 671.40,149.35 671.60,149.47 671.80,149.59 672.00,149.65 672.20,149.71 672.40,149.78 672.60,149.84 672.80,149.90 673.00,150.05" clip-path="url(#cbp)"/>
<clipPath id="cbp"><rect x="387.6" y="20.1" width="285.4" height="145.4"/></clipPath>
<clipPath id="cc"><rect x="6.5" y="218.5" width="320.5" height="157.0"/></clipPath>
<line x1="7.0" y1="218.3" x2="7.0" y2="376.0" stroke="#2a3d7a" stroke-width="1.3"/>
<line x1="327.5" y1="218.3" x2="327.5" y2="376.0" stroke="#2a3d7a" stroke-width="1.1"/>
<line x1="6.35" y1="219.0" x2="328.05" y2="219.0" stroke="#2a3d7a" stroke-width="1.4"/>
<line x1="6.35" y1="375.5" x2="328.05" y2="375.5" stroke="#2a3d7a" stroke-width="1"/>
<text x="8.10" y="230.60" font-size="9" text-anchor="start" font-weight="normal" textLength="46.90" lengthAdjust="spacingAndGlyphs">222172 (222172.D)</text>
<text transform="translate(14.20,265.90) rotate(-90)" font-size="5.9" font-weight="normal" textLength="27.60" lengthAdjust="spacingAndGlyphs">Counts</text>
<text x="17.90" y="246.60" font-size="8.9" text-anchor="start" font-weight="normal" textLength="8.60" lengthAdjust="spacingAndGlyphs" style="stroke-width:0.32px">x10</text>
<text x="28.30" y="243.50" font-size="6.8" text-anchor="start" font-weight="normal" textLength="2.70" lengthAdjust="spacingAndGlyphs" style="stroke-width:0.3px">7</text>
<text x="35.80" y="245.00" font-size="8.8" text-anchor="start" font-weight="normal" textLength="51.80" lengthAdjust="spacingAndGlyphs">+ TIC Scan 222172.D</text>
<line x1="34.6" y1="237.1" x2="34.6" y2="376.5" stroke="#111" stroke-width="1"/>
<line x1="32.300000000000004" y1="245.4" x2="34.6" y2="245.4" stroke="#111" stroke-width="0.8"/>
<line x1="32.1" y1="259.50" x2="34.6" y2="259.50" stroke="#222" stroke-width="0.9"/>
<text x="31.30" y="262.40" font-size="9" text-anchor="end" textLength="2.90" lengthAdjust="spacingAndGlyphs" clip-path="url(#cc)">8</text>
<line x1="32.1" y1="273.50" x2="34.6" y2="273.50" stroke="#222" stroke-width="0.9"/>
<text x="31.30" y="276.63" font-size="9" text-anchor="end" textLength="2.90" lengthAdjust="spacingAndGlyphs" clip-path="url(#cc)">7</text>
<line x1="32.1" y1="287.50" x2="34.6" y2="287.50" stroke="#222" stroke-width="0.9"/>
<text x="31.30" y="290.86" font-size="9" text-anchor="end" textLength="2.90" lengthAdjust="spacingAndGlyphs" clip-path="url(#cc)">6</text>
<line x1="32.1" y1="302.50" x2="34.6" y2="302.50" stroke="#222" stroke-width="0.9"/>
<text x="31.30" y="305.09" font-size="9" text-anchor="end" textLength="2.90" lengthAdjust="spacingAndGlyphs" clip-path="url(#cc)">5</text>
<line x1="32.1" y1="316.50" x2="34.6" y2="316.50" stroke="#222" stroke-width="0.9"/>
<text x="31.30" y="319.32" font-size="9" text-anchor="end" textLength="2.90" lengthAdjust="spacingAndGlyphs" clip-path="url(#cc)">4</text>
<line x1="32.1" y1="330.50" x2="34.6" y2="330.50" stroke="#222" stroke-width="0.9"/>
<text x="31.30" y="333.55" font-size="9" text-anchor="end" textLength="2.90" lengthAdjust="spacingAndGlyphs" clip-path="url(#cc)">3</text>
<line x1="32.1" y1="344.50" x2="34.6" y2="344.50" stroke="#222" stroke-width="0.9"/>
<text x="31.30" y="347.78" font-size="9" text-anchor="end" textLength="2.90" lengthAdjust="spacingAndGlyphs" clip-path="url(#cc)">2</text>
<line x1="32.1" y1="359.50" x2="34.6" y2="359.50" stroke="#222" stroke-width="0.9"/>
<text x="31.30" y="362.01" font-size="9" text-anchor="end" textLength="2.90" lengthAdjust="spacingAndGlyphs" clip-path="url(#cc)">1</text>
<line x1="32.1" y1="373.50" x2="34.6" y2="373.50" stroke="#222" stroke-width="0.9"/>
<text x="31.30" y="376.24" font-size="9" text-anchor="end" textLength="2.90" lengthAdjust="spacingAndGlyphs" clip-path="url(#cc)">0</text>
<line x1="34.1" y1="376.75" x2="327.5" y2="376.75" stroke="#222" stroke-opacity="0.7" stroke-width="0.9"/>
<line x1="34.1" y1="375.6" x2="328.05" y2="375.6" stroke="#22356e" stroke-width="1.5"/>
<line x1="45.60" y1="377" x2="45.60" y2="381" stroke="#444" stroke-width="0.9"/>
<text x="45.60" y="389.40" font-size="9" text-anchor="middle" font-weight="normal" textLength="10.60" lengthAdjust="spacingAndGlyphs">6.00</text>
<line x1="70.32" y1="377" x2="70.32" y2="381" stroke="#444" stroke-width="0.9"/>
<text x="70.32" y="389.40" font-size="9" text-anchor="middle" font-weight="normal" textLength="10.60" lengthAdjust="spacingAndGlyphs">8.00</text>
<line x1="95.04" y1="377" x2="95.04" y2="381" stroke="#444" stroke-width="0.9"/>
<text x="95.04" y="389.40" font-size="9" text-anchor="middle" font-weight="normal" textLength="13.40" lengthAdjust="spacingAndGlyphs">10.00</text>
<line x1="119.76" y1="377" x2="119.76" y2="381" stroke="#444" stroke-width="0.9"/>
<text x="119.76" y="389.40" font-size="9" text-anchor="middle" font-weight="normal" textLength="13.40" lengthAdjust="spacingAndGlyphs">12.00</text>
<line x1="144.48" y1="377" x2="144.48" y2="381" stroke="#444" stroke-width="0.9"/>
<text x="144.48" y="389.40" font-size="9" text-anchor="middle" font-weight="normal" textLength="13.40" lengthAdjust="spacingAndGlyphs">14.00</text>
<line x1="169.20" y1="377" x2="169.20" y2="381" stroke="#444" stroke-width="0.9"/>
<text x="169.20" y="389.40" font-size="9" text-anchor="middle" font-weight="normal" textLength="13.40" lengthAdjust="spacingAndGlyphs">16.00</text>
<line x1="193.92" y1="377" x2="193.92" y2="381" stroke="#444" stroke-width="0.9"/>
<text x="193.92" y="389.40" font-size="9" text-anchor="middle" font-weight="normal" textLength="13.40" lengthAdjust="spacingAndGlyphs">18.00</text>
<line x1="218.64" y1="377" x2="218.64" y2="381" stroke="#444" stroke-width="0.9"/>
<text x="218.64" y="389.40" font-size="9" text-anchor="middle" font-weight="normal" textLength="13.40" lengthAdjust="spacingAndGlyphs">20.00</text>
<line x1="243.36" y1="377" x2="243.36" y2="381" stroke="#444" stroke-width="0.9"/>
<text x="243.36" y="389.40" font-size="9" text-anchor="middle" font-weight="normal" textLength="13.40" lengthAdjust="spacingAndGlyphs">22.00</text>
<line x1="268.08" y1="377" x2="268.08" y2="381" stroke="#444" stroke-width="0.9"/>
<text x="268.08" y="389.40" font-size="9" text-anchor="middle" font-weight="normal" textLength="13.40" lengthAdjust="spacingAndGlyphs">24.00</text>
<line x1="292.80" y1="377" x2="292.80" y2="381" stroke="#444" stroke-width="0.9"/>
<text x="292.80" y="389.40" font-size="9" text-anchor="middle" font-weight="normal" textLength="13.40" lengthAdjust="spacingAndGlyphs">26.00</text>
<line x1="317.52" y1="377" x2="317.52" y2="381" stroke="#444" stroke-width="0.9"/>
<text x="317.52" y="389.40" font-size="9" text-anchor="middle" font-weight="normal" textLength="13.40" lengthAdjust="spacingAndGlyphs">28.00</text>
<text x="273.60" y="403.50" font-size="8.4" text-anchor="start" font-weight="normal" textLength="53.60" lengthAdjust="spacingAndGlyphs">Acquisition Time (min)</text>
<text x="0.80" y="408.70" font-size="16" style="stroke-width:0.45px" textLength="16.40" lengthAdjust="spacingAndGlyphs">(c)</text>
<polyline fill="none" stroke="#000" stroke-width="1.05" stroke-linejoin="miter" stroke-miterlimit="3" points="35.00,359.50 35.20,359.31 35.40,359.12 35.60,359.13 35.80,359.43 36.00,359.91 36.20,360.72 36.40,361.45 36.60,362.06 36.80,362.59 37.00,363.10 37.20,363.33 37.40,363.64 37.60,363.95 37.80,364.25 38.00,364.56 38.20,364.87 38.40,365.12 38.60,365.31 38.80,365.49 39.00,365.61 39.20,365.36 39.40,364.80 39.60,363.94 39.80,362.86 40.00,362.10 40.10,362.01 40.20,362.16 40.40,363.04 40.60,364.24 40.80,365.24 41.00,365.83 41.20,366.11 41.40,366.25 41.60,366.41 41.80,366.50 42.00,366.59 42.20,366.68 42.40,366.77 42.60,366.85 42.80,367.04 43.00,367.33 43.20,367.32 43.40,367.31 43.60,367.30 43.80,367.29 44.00,367.07 44.20,366.86 44.40,366.63 44.60,366.38 44.80,366.06 45.00,365.65 45.20,365.10 45.40,364.44 45.60,363.94 45.70,363.84 45.80,363.84 46.00,364.15 46.20,364.97 46.40,365.68 46.60,366.20 46.80,366.57 47.00,366.87 47.20,367.09 47.40,367.24 47.60,367.39 47.80,367.55 48.00,367.70 48.20,367.76 48.40,367.83 48.60,367.89 48.80,367.96 49.00,368.02 49.20,368.09 49.40,368.14 49.60,368.18 49.80,368.22 50.00,368.25 50.20,368.21 50.40,368.17 50.60,368.18 50.80,368.20 51.00,368.21 51.20,368.22 51.40,368.23 51.60,368.22 51.80,368.19 52.00,368.16 52.20,368.12 52.40,368.09 52.60,368.06 52.80,368.11 53.00,368.17 53.20,368.17 53.40,368.18 53.60,368.18 53.80,368.18 54.00,368.19 54.20,368.19 54.40,368.20 54.60,368.21 54.80,368.21 55.00,368.03 55.20,367.84 55.40,367.64 55.60,367.39 55.80,367.00 56.00,366.39 56.20,365.39 56.40,364.18 56.60,363.28 56.70,363.12 56.80,363.18 57.00,363.87 57.20,364.91 57.40,365.75 57.60,366.20 57.80,366.35 58.00,366.35 58.20,366.31 58.40,366.23 58.60,366.14 58.80,366.06 59.00,365.97 59.20,365.88 59.40,365.65 59.60,365.41 59.80,365.17 60.00,364.94 60.20,364.67 60.40,364.50 60.60,364.41 60.80,364.31 61.00,364.19 61.20,363.83 61.40,362.46 61.60,357.98 61.80,348.03 62.00,333.44 62.20,321.65 62.30,319.81 62.40,321.44 62.60,332.91 62.80,347.25 63.00,356.96 63.20,361.19 63.40,362.43 63.60,362.87 63.80,363.11 64.00,363.32 64.20,363.53 64.40,363.73 64.60,363.77 64.80,363.70 65.00,363.70 65.20,363.71 65.40,363.71 65.60,363.71 65.80,363.71 66.00,363.76 66.20,363.81 66.40,363.86 66.60,363.91 66.80,363.95 67.00,363.91 67.20,363.69 67.40,363.11 67.60,362.05 67.80,360.85 68.00,360.29 68.20,360.69 68.40,361.72 68.60,362.62 68.80,363.04 69.00,362.59 69.20,361.81 69.40,360.87 69.60,360.55 69.80,361.40 70.00,362.88 70.20,364.09 70.40,364.66 70.60,364.93 70.80,365.09 71.00,365.24 71.20,365.17 71.40,365.05 71.60,364.90 71.80,364.75 72.00,364.60 72.20,364.45 72.40,364.30 72.60,364.27 72.80,364.24 73.00,364.20 73.20,364.12 73.40,363.76 73.60,362.42 73.80,358.76 74.00,351.99 74.20,344.33 74.40,340.81 74.60,344.28 74.80,351.79 75.00,358.42 75.20,361.94 75.40,363.14 75.60,363.40 75.80,363.47 76.00,363.54 76.20,363.60 76.40,363.65 76.60,363.71 76.80,363.77 77.00,363.79 77.20,363.74 77.40,363.69 77.60,363.65 77.80,363.60 78.00,363.56 78.20,363.52 78.40,363.49 78.60,363.46 78.80,363.43 79.00,363.39 79.20,363.44 79.40,363.48 79.60,363.53 79.80,363.57 80.00,363.61 80.20,363.53 80.40,363.23 80.60,362.58 80.80,361.46 81.00,360.20 81.20,359.57 81.40,360.21 81.60,361.48 81.80,362.61 82.00,363.27 82.20,363.43 82.40,363.38 82.60,363.22 82.80,363.05 83.00,362.88 83.20,362.71 83.40,362.53 83.60,362.21 83.80,361.90 84.00,361.58 84.20,361.26 84.40,360.94 84.60,360.73 84.80,360.63 85.00,360.53 85.20,360.38 85.40,360.23 85.60,360.08 85.80,359.85 86.00,359.62 86.20,359.39 86.40,359.16 86.60,358.94 86.80,358.75 87.00,358.59 87.20,358.44 87.40,358.28 87.60,358.12 87.80,357.95 88.00,357.62 88.20,357.41 88.40,357.13 88.60,356.72 88.80,356.20 89.00,355.59 89.20,354.99 89.40,354.51 89.60,354.27 89.80,354.31 90.00,354.59 90.20,355.06 90.40,355.54 90.60,355.93 90.80,356.20 91.00,356.35 91.20,356.58 91.40,356.76 91.60,356.92 91.80,357.06 92.00,357.20 92.20,357.33 92.40,357.37 92.60,357.40 92.80,357.44 93.00,357.47 93.20,357.51 93.40,357.60 93.60,357.76 93.80,357.92 94.00,358.07 94.20,358.24 94.40,358.40 94.60,358.58 94.80,358.75 95.00,358.93 95.20,359.10 95.40,359.28 95.60,359.38 95.80,359.41 96.00,359.44 96.20,359.34 96.40,359.23 96.60,359.13 96.80,359.22 97.00,359.31 97.20,359.40 97.40,359.49 97.60,359.56 97.80,359.49 98.00,359.17 98.20,358.50 98.40,357.36 98.60,355.97 98.80,354.95 98.90,354.83 99.00,354.99 99.20,355.99 99.40,357.35 99.60,358.46 99.80,359.11 100.00,359.37 100.20,359.62 100.40,359.82 100.60,360.00 100.80,360.18 101.00,360.36 101.20,360.46 101.40,360.57 101.60,360.55 101.80,360.41 102.00,360.27 102.20,360.21 102.40,360.23 102.60,360.20 102.80,359.66 103.00,355.64 103.20,338.86 103.40,300.86 103.60,261.30 103.70,254.79 103.80,261.33 104.00,300.93 104.20,338.98 104.40,355.77 104.60,359.76 104.80,360.28 105.00,360.29 105.20,360.48 105.40,360.67 105.60,360.83 105.80,361.00 106.00,361.16 106.20,361.33 106.40,361.49 106.60,361.70 106.80,361.94 107.00,362.17 107.20,362.18 107.40,362.19 107.60,362.20 107.80,362.08 108.00,361.96 108.20,361.84 108.40,361.71 108.60,361.56 108.80,361.31 109.00,360.64 109.20,359.09 109.40,357.15 109.60,356.14 109.80,356.88 110.00,358.59 110.20,359.91 110.40,360.45 110.60,360.54 110.80,360.48 111.00,360.29 111.20,360.08 111.40,359.87 111.60,359.66 111.80,359.45 112.00,359.24 112.20,359.17 112.40,359.09 112.60,359.02 112.80,358.94 113.00,358.87 113.20,358.86 113.40,358.92 113.60,358.98 113.80,359.04 114.00,359.10 114.20,359.13 114.40,358.77 114.60,357.82 114.80,355.43 115.00,351.12 115.20,346.27 115.40,344.04 115.60,346.20 115.80,350.91 116.00,355.07 116.20,357.31 116.40,358.13 116.60,357.86 116.80,356.97 117.00,355.52 117.20,354.23 117.30,353.99 117.40,354.11 117.60,355.25 117.80,356.66 118.00,357.51 118.20,357.87 118.40,358.01 118.60,358.10 118.80,358.14 119.00,358.18 119.20,358.22 119.40,358.26 119.60,358.29 119.80,358.30 120.00,358.21 120.20,357.98 120.40,357.39 120.60,356.63 120.80,356.29 121.00,356.70 121.20,357.54 121.40,358.20 121.60,358.50 121.80,358.60 122.00,358.66 122.20,358.76 122.40,358.85 122.60,358.94 122.80,359.03 123.00,359.12 123.20,358.87 123.40,358.62 123.60,358.37 123.80,358.12 124.00,357.87 124.20,357.58 124.40,357.24 124.60,356.90 124.80,356.56 125.00,356.20 125.20,355.67 125.40,353.59 125.60,343.45 125.80,312.64 126.00,263.66 126.20,236.92 126.40,263.06 126.60,311.41 126.80,341.60 127.00,351.11 127.20,352.57 127.40,352.43 127.60,352.46 127.80,352.74 128.00,353.02 128.20,353.31 128.40,353.59 128.60,353.77 128.80,353.86 129.00,353.89 129.20,353.38 129.40,349.08 129.60,330.95 129.80,290.06 130.00,247.48 130.10,240.58 130.20,247.83 130.40,291.10 130.60,332.70 130.80,351.19 131.00,355.75 131.20,356.42 131.40,356.53 131.60,356.60 131.80,356.66 132.00,356.78 132.20,356.91 132.40,357.03 132.60,357.15 132.80,357.28 133.00,357.40 133.20,357.48 133.40,357.55 133.60,357.62 133.80,357.70 134.00,357.77 134.20,357.73 134.40,357.68 134.60,357.63 134.80,357.58 135.00,357.53 135.20,357.45 135.40,357.44 135.60,357.39 135.80,357.17 136.00,356.41 136.20,354.68 136.40,351.93 136.60,349.68 136.70,349.27 136.80,349.48 137.00,351.33 137.20,353.68 137.40,355.34 137.60,356.16 137.80,356.45 138.00,356.57 138.20,356.69 138.40,356.81 138.60,356.65 138.80,356.48 139.00,356.31 139.20,356.14 139.40,355.87 139.60,355.24 139.80,353.00 140.00,346.77 140.20,335.22 140.40,322.13 140.60,316.14 140.80,322.16 141.00,335.28 141.20,346.87 141.40,353.13 141.60,355.40 141.80,355.96 142.00,356.04 142.20,356.03 142.40,356.00 142.60,355.98 142.80,355.95 143.00,355.95 143.20,355.96 143.40,355.96 143.60,355.96 143.80,355.97 144.00,355.94 144.20,355.89 144.40,355.83 144.60,355.78 144.80,355.72 145.00,355.67 145.20,355.62 145.40,355.41 145.60,354.59 145.80,352.35 146.00,348.19 146.20,343.52 146.40,341.44 146.60,343.67 146.80,348.45 147.00,352.68 147.20,354.99 147.40,353.21 147.60,349.84 147.80,346.88 147.90,346.43 148.00,346.91 148.20,349.92 148.40,353.38 148.60,355.45 148.80,355.32 149.00,349.87 149.20,332.79 149.40,305.47 149.60,290.55 149.80,305.41 150.00,332.79 150.20,349.94 150.40,355.44 150.60,356.44 150.80,356.48 151.00,356.04 151.20,354.45 151.40,350.88 151.60,346.32 151.80,344.16 152.00,346.46 152.20,351.11 152.40,353.40 152.60,340.73 152.80,311.87 153.00,281.77 153.10,276.80 153.20,281.72 153.40,311.72 153.60,340.54 153.80,353.24 154.00,356.37 154.20,356.87 154.40,356.97 154.60,357.05 154.80,357.12 155.00,357.16 155.20,357.24 155.40,357.31 155.60,357.39 155.80,357.46 156.00,357.54 156.20,357.59 156.40,357.65 156.60,357.70 156.80,357.76 157.00,357.81 157.20,357.86 157.40,357.98 157.60,358.10 157.80,358.22 158.00,358.34 158.20,358.45 158.40,358.36 158.60,358.12 158.80,357.47 159.00,356.05 159.20,353.98 159.40,352.35 159.50,352.12 159.60,352.38 159.80,354.03 160.00,356.06 160.20,357.46 160.40,358.08 160.60,358.24 160.80,358.26 161.00,358.24 161.20,358.26 161.40,358.28 161.60,358.36 161.80,358.49 162.00,358.63 162.20,358.76 162.40,358.90 162.60,359.02 162.80,358.95 163.00,358.70 163.20,358.04 163.40,356.82 163.60,355.44 163.80,354.83 164.00,355.51 164.20,356.94 164.40,358.20 164.60,358.90 164.80,359.19 165.00,359.30 165.20,359.36 165.40,359.41 165.60,359.46 165.80,359.51 166.00,359.61 166.20,359.73 166.40,359.86 166.60,359.98 166.80,360.11 167.00,360.23 167.20,360.27 167.40,360.32 167.60,360.36 167.80,360.41 168.00,360.45 168.20,360.49 168.40,360.53 168.60,360.57 168.80,360.61 169.00,360.65 169.20,360.69 169.40,360.69 169.60,360.69 169.80,360.69 170.00,360.69 170.20,360.72 170.40,360.80 170.60,360.94 170.80,361.07 171.00,361.20 171.20,361.33 171.40,361.46 171.60,361.50 171.80,361.54 172.00,361.59 172.20,361.59 172.40,361.60 172.60,361.65 172.80,361.73 173.00,361.78 173.20,361.58 173.40,360.28 173.60,355.73 173.80,345.16 174.00,329.55 174.20,316.99 174.30,315.11 174.40,317.00 174.60,329.58 174.80,345.28 175.00,356.01 175.20,360.80 175.40,362.33 175.60,362.68 175.80,362.69 176.00,362.43 176.20,362.17 176.40,361.91 176.60,361.64 176.80,361.38 177.00,361.21 177.20,361.14 177.40,361.07 177.60,360.99 177.80,360.92 178.00,360.84 178.20,360.75 178.40,360.65 178.60,360.50 178.80,360.19 179.00,359.47 179.20,358.27 179.40,356.96 179.60,356.36 179.80,356.95 180.00,358.26 180.20,359.42 180.40,359.86 180.60,359.90 180.80,359.78 181.00,359.60 181.20,359.42 181.40,359.32 181.60,359.29 181.80,359.27 182.00,359.24 182.20,359.21 182.40,359.18 182.60,359.12 182.80,358.90 183.00,358.31 183.20,357.23 183.40,355.99 183.60,355.35 183.80,355.77 184.00,356.85 184.20,357.79 184.40,358.23 184.60,358.29 184.80,358.33 185.00,358.33 185.20,358.29 185.40,358.25 185.60,358.21 185.80,358.10 186.00,357.92 186.20,357.74 186.40,357.56 186.60,357.38 186.80,357.20 187.00,357.02 187.20,356.94 187.40,356.87 187.60,356.80 187.80,356.72 188.00,356.76 188.20,356.91 188.40,356.95 188.60,356.09 188.80,350.61 189.00,333.30 189.20,305.35 189.40,290.12 189.60,305.15 189.80,332.89 190.00,350.25 190.20,355.88 190.40,356.99 190.60,357.24 190.80,357.43 191.00,357.62 191.20,357.81 191.40,357.88 191.60,357.94 191.80,358.01 192.00,358.07 192.20,358.08 192.40,357.84 192.60,356.65 192.80,353.20 193.00,346.73 193.20,339.39 193.40,336.07 193.60,339.54 193.80,347.04 194.00,353.66 194.20,357.27 194.40,358.61 194.60,358.99 194.80,359.11 195.00,359.18 195.20,359.24 195.40,359.30 195.60,359.36 195.80,359.24 196.00,359.11 196.20,358.99 196.40,358.87 196.60,358.74 196.80,358.69 197.00,358.72 197.20,358.56 197.40,358.40 197.60,358.24 197.80,358.08 198.00,357.96 198.20,357.83 198.40,357.70 198.60,357.57 198.80,357.44 199.00,357.30 199.20,357.14 199.40,356.98 199.60,356.82 199.80,356.66 200.00,356.51 200.20,356.38 200.40,356.26 200.60,356.13 200.80,356.01 201.00,355.87 201.20,355.68 201.40,355.30 201.60,354.51 201.80,353.16 202.00,351.64 202.20,350.87 202.40,351.36 202.60,352.58 202.80,353.65 203.00,354.16 203.20,354.25 203.40,354.20 203.60,354.20 203.80,354.23 204.00,354.20 204.20,354.04 204.40,353.60 204.60,353.00 204.80,352.54 204.90,352.51 205.00,352.64 205.20,353.30 205.40,354.10 205.60,354.55 205.80,354.63 206.00,354.55 206.20,354.43 206.40,354.28 206.60,354.07 206.80,353.94 207.00,353.46 207.20,352.70 207.40,352.11 207.50,352.07 207.60,352.24 207.80,352.97 208.00,353.75 208.20,354.24 208.40,354.39 208.60,354.36 208.80,354.26 209.00,354.34 209.20,354.45 209.40,354.56 209.60,354.67 209.80,354.77 210.00,354.85 210.20,354.85 210.40,354.71 210.60,354.10 210.80,352.55 211.00,349.78 211.20,346.26 211.40,343.70 211.50,343.32 211.60,343.66 211.80,346.13 212.00,349.56 212.20,352.40 212.40,354.07 212.60,354.81 212.80,355.08 213.00,355.20 213.20,355.29 213.40,355.32 213.60,355.34 213.80,355.37 214.00,355.40 214.20,355.43 214.40,355.47 214.60,355.54 214.80,355.60 215.00,355.67 215.20,355.73 215.40,355.80 215.60,355.70 215.80,355.59 216.00,355.49 216.20,355.40 216.40,355.31 216.60,355.28 216.80,355.31 217.00,355.35 217.20,355.39 217.40,355.42 217.60,355.46 217.80,355.53 218.00,355.61 218.20,355.68 218.40,355.76 218.60,355.83 218.80,355.93 219.00,356.03 219.20,356.14 219.40,356.25 219.60,356.36 219.80,356.46 220.00,356.52 220.20,356.66 220.40,356.81 220.60,356.95 220.80,357.10 221.00,357.19 221.20,357.17 221.40,356.87 221.60,356.06 221.80,354.82 222.00,353.84 222.10,353.75 222.20,353.97 222.40,355.17 222.60,356.63 222.80,357.66 223.00,358.18 223.20,358.41 223.40,358.51 223.60,358.59 223.80,358.67 224.00,358.75 224.20,358.75 224.40,358.78 224.60,358.80 224.80,358.83 225.00,358.86 225.20,358.89 225.40,358.99 225.60,359.15 225.80,359.31 226.00,359.48 226.20,359.64 226.40,359.80 226.60,359.80 226.80,359.79 227.00,359.78 227.20,359.77 227.40,359.76 227.60,359.82 227.80,359.97 228.00,360.12 228.20,360.27 228.40,360.42 228.60,360.57 228.80,360.62 229.00,360.67 229.20,360.72 229.40,360.77 229.60,360.82 229.80,360.82 230.00,360.77 230.20,360.68 230.40,360.59 230.60,360.50 230.80,360.41 231.00,360.36 231.20,360.32 231.40,360.27 231.60,360.22 231.80,360.18 232.00,360.18 232.20,360.23 232.40,360.28 232.60,360.33 232.80,360.37 233.00,360.42 233.20,360.52 233.40,360.62 233.60,360.71 233.80,360.81 234.00,360.91 234.20,360.79 234.40,360.61 234.60,360.43 234.80,360.25 235.00,360.07 235.20,359.89 235.40,359.74 235.60,359.59 235.80,359.44 236.00,359.29 236.20,359.12 236.40,358.93 236.60,358.55 236.80,357.65 237.00,355.88 237.20,353.27 237.40,350.72 237.60,349.43 237.80,350.25 238.00,352.49 238.20,354.79 238.40,356.25 238.60,356.76 238.80,356.68 239.00,356.38 239.20,356.01 239.40,355.64 239.60,353.31 239.80,348.99 240.00,344.67 240.20,340.35 240.40,336.03 240.60,330.38 240.80,323.37 241.00,316.33 241.20,315.29 241.40,314.24 241.60,313.20 241.80,312.15 242.00,311.10 242.20,310.05 242.40,309.00 242.60,310.22 242.80,311.44 243.00,312.71 243.20,314.02 243.40,315.33 243.60,317.31 243.80,319.97 244.00,322.63 244.20,325.26 244.40,327.89 244.60,330.08 244.80,331.83 245.00,333.57 245.20,335.27 245.40,336.91 245.60,338.19 245.80,339.10 246.00,340.01 246.20,340.93 246.40,341.94 246.60,342.96 246.80,343.98 247.00,345.00 247.20,345.88 247.40,346.78 247.60,347.69 247.80,348.61 248.00,349.53 248.20,350.44 248.40,351.36 248.60,352.23 248.80,352.98 249.00,353.74 249.20,354.48 249.40,355.20 249.60,355.25 249.80,354.57 250.00,353.69 250.20,352.51 250.40,350.97 250.60,349.09 250.80,347.26 251.00,345.61 251.20,344.51 251.30,344.26 251.40,344.21 251.60,344.71 251.80,345.68 252.00,346.78 252.20,347.73 252.40,348.35 252.60,349.33 252.80,350.73 253.00,352.06 253.20,353.29 253.40,354.46 253.60,355.30 253.80,355.80 254.00,356.28 254.20,356.74 254.40,357.19 254.60,357.72 254.80,358.31 255.00,358.90 255.20,359.45 255.40,359.99 255.60,360.54 255.80,361.09 256.00,361.63 256.20,361.74 256.40,361.86 256.60,361.98 256.80,362.10 257.00,362.23 257.20,362.35 257.40,362.43 257.60,362.51 257.80,362.59 258.00,362.67 258.20,362.49 258.40,362.31 258.60,362.13 258.80,361.95 259.00,361.76 259.20,361.58 259.40,361.40 259.60,361.31 259.80,361.21 260.00,361.12 260.20,361.12 260.40,361.12 260.60,361.12 260.80,361.13 261.00,361.13 261.20,361.14 261.40,361.15 261.60,361.15 261.80,361.03 262.00,360.90 262.20,360.98 262.40,361.07 262.60,361.15 262.80,361.28 263.00,361.44 263.20,361.61 263.40,361.78 263.60,361.95 263.80,362.11 264.00,362.19 264.20,362.41 264.40,362.62 264.60,362.83 264.80,363.04 265.00,363.28 265.20,363.55 265.40,363.81 265.60,364.07 265.80,364.34 266.00,364.60 266.20,364.73 266.40,364.86 266.60,364.99 266.80,365.12 267.00,365.25 267.20,365.35 267.40,365.41 267.60,365.48 267.80,365.55 268.00,365.62 268.20,365.57 268.40,365.49 268.60,365.40 268.80,365.31 269.00,365.17 269.20,364.79 269.40,363.53 269.60,360.15 269.80,353.93 270.00,346.88 270.20,343.64 270.40,346.82 270.60,353.80 270.80,359.95 271.00,363.26 271.20,364.42 271.40,364.77 271.60,364.95 271.80,365.09 272.00,365.22 272.20,365.35 272.40,365.48 272.60,365.61 272.80,365.79 273.00,365.96 273.20,366.01 273.40,366.05 273.60,366.09 273.80,366.13 274.00,366.16 274.20,366.19 274.40,366.22 274.60,366.25 274.80,366.28 275.00,366.25 275.20,366.22 275.40,366.19 275.60,366.16 275.80,366.13 276.00,366.16 276.20,366.23 276.40,366.30 276.60,366.38 276.80,366.45 277.00,366.53 277.20,366.46 277.40,366.40 277.60,366.33 277.80,366.27 278.00,366.20 278.20,366.15 278.40,366.11 278.60,366.08 278.80,366.04 279.00,366.00 279.20,365.96 279.40,365.98 279.60,366.00 279.80,366.01 280.00,366.03 280.20,366.06 280.40,366.06 280.60,366.03 280.80,365.99 281.00,365.96 281.20,365.93 281.40,365.89 281.60,365.91 281.80,365.93 282.00,365.95 282.20,365.97 282.40,365.99 282.60,366.01 282.80,366.01 283.00,366.02 283.20,366.02 283.40,366.03 283.60,366.03 283.80,366.07 284.00,366.12 284.20,366.16 284.40,366.21 284.60,366.25 284.80,366.32 285.00,366.43 285.20,366.52 285.40,366.61 285.60,366.70 285.80,366.80 286.00,366.72 286.20,366.64 286.40,366.56 286.60,366.48 286.80,366.40 287.00,366.35 287.20,366.34 287.40,366.32 287.60,366.30 287.80,366.29 288.00,366.27 288.20,366.30 288.40,366.33 288.60,366.36 288.80,366.38 289.00,366.41 289.20,366.45 289.40,366.49 289.60,366.54 289.80,366.59 290.00,366.63 290.20,366.67 290.40,366.61 290.60,366.56 290.80,366.50 291.00,366.45 291.20,366.39 291.40,366.40 291.60,366.46 291.80,366.52 292.00,366.58 292.20,366.64 292.40,366.71 292.60,366.58 292.80,366.46 293.00,366.33 293.20,366.21 293.40,366.09 293.60,366.03 293.80,366.06 294.00,366.08 294.20,366.10 294.40,366.12 294.60,366.14 294.80,366.11 295.00,366.09 295.20,366.08 295.40,366.07 295.60,366.06 295.80,366.08 296.00,366.13 296.20,366.18 296.40,366.24 296.60,366.29 296.80,366.35 297.00,366.24 297.20,366.13 297.40,366.02 297.60,365.91 297.80,365.80 298.00,365.75 298.20,365.74 298.40,365.64 298.60,365.43 298.80,365.15 299.00,364.97 299.10,364.93 299.20,364.95 299.40,365.17 299.60,365.48 299.80,365.73 300.00,365.87 300.20,365.97 300.40,366.09 300.60,366.20 300.80,366.30 301.00,366.40 301.20,366.50 301.40,366.45 301.60,366.39 301.80,366.33 302.00,366.27 302.20,366.25 302.40,366.23 302.60,366.21 302.80,366.20 303.00,366.18 303.20,366.16 303.40,366.14 303.60,366.16 303.80,366.17 304.00,366.19 304.20,366.20 304.40,366.22 304.60,366.24 304.80,366.29 305.00,366.33 305.20,366.37 305.40,366.41 305.60,366.45 305.80,366.54 306.00,366.62 306.20,366.70 306.40,366.78 306.60,366.86 306.80,366.90 307.00,366.88 307.20,366.86 307.40,366.84 307.60,366.82 307.80,366.81 308.00,366.87 308.20,366.83 308.40,366.80 308.60,366.77 308.80,366.74 309.00,366.74 309.20,366.79 309.40,366.84 309.60,366.88 309.80,366.93 310.00,366.98 310.20,366.80 310.40,366.63 310.60,366.46 310.80,366.28 311.00,366.11 311.20,366.01 311.40,365.98 311.60,365.95 311.80,365.92 312.00,365.89 312.20,365.94 312.40,365.98 312.60,366.02 312.80,366.07 313.00,366.11 313.20,366.16 313.40,366.19 313.60,366.22 313.80,366.24 314.00,366.27 314.20,366.29 314.40,366.31 314.60,366.38 314.80,366.44 315.00,366.51 315.20,366.57 315.40,366.64 315.60,366.67 315.80,366.66 316.00,366.66 316.20,366.67 316.40,366.68 316.60,366.69 316.80,366.71 317.00,366.68 317.20,366.54 317.40,366.22 317.60,365.72 317.80,365.28 318.00,365.16 318.20,365.48 318.40,366.10 318.60,366.72 318.80,367.17 319.00,367.35 319.20,367.42 319.40,367.44 319.60,367.45 319.80,367.46 320.00,367.47 320.20,367.36 320.40,367.25 320.60,367.15 320.80,367.04 321.00,366.93 321.20,366.78 321.40,366.62 321.60,366.47 321.80,366.31 322.00,366.16 322.20,366.09 322.40,366.12 322.60,366.15 322.80,366.18 323.00,366.21 323.20,366.25 323.40,366.08 323.60,365.91 323.80,365.74 324.00,365.57 324.20,365.40 324.40,365.32 324.60,365.34 324.80,365.36 325.00,365.39 325.20,365.41 325.40,365.43 325.60,365.35 325.80,365.27 326.00,365.19 326.20,365.11 326.40,365.04 326.60,364.95 326.80,364.86 327.00,364.76" clip-path="url(#ccp)"/>
<clipPath id="ccp"><rect x="34.6" y="237.1" width="292.4" height="138.9"/></clipPath>
<clipPath id="cd"><rect x="360.5" y="230.5" width="323.0" height="147.0"/></clipPath>
<line x1="361.0" y1="230.3" x2="361.0" y2="378.1" stroke="#2a3d7a" stroke-width="1.3"/>
<line x1="684.3" y1="230.3" x2="684.3" y2="378.1" stroke="#2a3d7a" stroke-width="1.4"/>
<line x1="360.35" y1="231.0" x2="685.0" y2="231.0" stroke="#2a3d7a" stroke-width="1.4"/>
<line x1="360.35" y1="377.6" x2="685.0" y2="377.6" stroke="#2a3d7a" stroke-width="1"/>
<text x="362.10" y="241.70" font-size="8.8" text-anchor="start" font-weight="normal" textLength="47.00" lengthAdjust="spacingAndGlyphs">222173 (222173.D)</text>
<text transform="translate(368.00,275.40) rotate(-90)" font-size="5.9" font-weight="normal" textLength="25.90" lengthAdjust="spacingAndGlyphs">Counts</text>
<text x="371.60" y="256.60" font-size="8.4" text-anchor="start" font-weight="normal" textLength="9.30" lengthAdjust="spacingAndGlyphs" style="stroke-width:0.32px">x10</text>
<text x="382.60" y="253.50" font-size="6.4" text-anchor="start" font-weight="normal" textLength="2.40" lengthAdjust="spacingAndGlyphs" style="stroke-width:0.3px">8</text>
<text x="390.10" y="255.00" font-size="8.8" text-anchor="start" font-weight="normal" textLength="52.10" lengthAdjust="spacingAndGlyphs">+ TIC Scan 222173.D</text>
<line x1="388.4" y1="247.5" x2="388.4" y2="378.5" stroke="#111" stroke-width="1"/>
<line x1="386.09999999999997" y1="-10" x2="388.4" y2="-10" stroke="#111" stroke-width="0.8"/>
<line x1="385.9" y1="263.50" x2="388.4" y2="263.50" stroke="#222" stroke-width="0.9"/>
<text x="385.10" y="266.62" font-size="9" text-anchor="end" textLength="7.25" lengthAdjust="spacingAndGlyphs" clip-path="url(#cd)">1.2</text>
<line x1="385.9" y1="282.50" x2="388.4" y2="282.50" stroke="#222" stroke-width="0.9"/>
<text x="385.10" y="285.39" font-size="9" text-anchor="end" textLength="2.90" lengthAdjust="spacingAndGlyphs" clip-path="url(#cd)">1</text>
<line x1="385.9" y1="301.50" x2="388.4" y2="301.50" stroke="#222" stroke-width="0.9"/>
<text x="385.10" y="304.16" font-size="9" text-anchor="end" textLength="7.25" lengthAdjust="spacingAndGlyphs" clip-path="url(#cd)">0.8</text>
<line x1="385.9" y1="320.50" x2="388.4" y2="320.50" stroke="#222" stroke-width="0.9"/>
<text x="385.10" y="322.93" font-size="9" text-anchor="end" textLength="7.25" lengthAdjust="spacingAndGlyphs" clip-path="url(#cd)">0.6</text>
<line x1="385.9" y1="338.50" x2="388.4" y2="338.50" stroke="#222" stroke-width="0.9"/>
<text x="385.10" y="341.69" font-size="9" text-anchor="end" textLength="7.25" lengthAdjust="spacingAndGlyphs" clip-path="url(#cd)">0.4</text>
<line x1="385.9" y1="357.50" x2="388.4" y2="357.50" stroke="#222" stroke-width="0.9"/>
<text x="385.10" y="360.46" font-size="9" text-anchor="end" textLength="7.25" lengthAdjust="spacingAndGlyphs" clip-path="url(#cd)">0.2</text>
<line x1="385.9" y1="376.50" x2="388.4" y2="376.50" stroke="#222" stroke-width="0.9"/>
<text x="385.10" y="379.23" font-size="9" text-anchor="end" textLength="2.90" lengthAdjust="spacingAndGlyphs" clip-path="url(#cd)">0</text>
<line x1="387.9" y1="379.15" x2="684.3" y2="379.15" stroke="#222" stroke-opacity="0.7" stroke-width="0.9"/>
<line x1="387.9" y1="378.0" x2="685.0" y2="378.0" stroke="#22356e" stroke-width="1.5"/>
<line x1="400.00" y1="379" x2="400.00" y2="382.5" stroke="#444" stroke-width="0.9"/>
<text x="400.00" y="390.60" font-size="9" text-anchor="middle" font-weight="normal" textLength="10.60" lengthAdjust="spacingAndGlyphs">6.00</text>
<line x1="424.92" y1="379" x2="424.92" y2="382.5" stroke="#444" stroke-width="0.9"/>
<text x="424.92" y="390.60" font-size="9" text-anchor="middle" font-weight="normal" textLength="10.60" lengthAdjust="spacingAndGlyphs">8.00</text>
<line x1="449.84" y1="379" x2="449.84" y2="382.5" stroke="#444" stroke-width="0.9"/>
<text x="449.84" y="390.60" font-size="9" text-anchor="middle" font-weight="normal" textLength="13.40" lengthAdjust="spacingAndGlyphs">10.00</text>
<line x1="474.76" y1="379" x2="474.76" y2="382.5" stroke="#444" stroke-width="0.9"/>
<text x="474.76" y="390.60" font-size="9" text-anchor="middle" font-weight="normal" textLength="13.40" lengthAdjust="spacingAndGlyphs">12.00</text>
<line x1="499.68" y1="379" x2="499.68" y2="382.5" stroke="#444" stroke-width="0.9"/>
<text x="499.68" y="390.60" font-size="9" text-anchor="middle" font-weight="normal" textLength="13.40" lengthAdjust="spacingAndGlyphs">14.00</text>
<line x1="524.60" y1="379" x2="524.60" y2="382.5" stroke="#444" stroke-width="0.9"/>
<text x="524.60" y="390.60" font-size="9" text-anchor="middle" font-weight="normal" textLength="13.40" lengthAdjust="spacingAndGlyphs">16.00</text>
<line x1="549.52" y1="379" x2="549.52" y2="382.5" stroke="#444" stroke-width="0.9"/>
<text x="549.52" y="390.60" font-size="9" text-anchor="middle" font-weight="normal" textLength="13.40" lengthAdjust="spacingAndGlyphs">18.00</text>
<line x1="574.44" y1="379" x2="574.44" y2="382.5" stroke="#444" stroke-width="0.9"/>
<text x="574.44" y="390.60" font-size="9" text-anchor="middle" font-weight="normal" textLength="13.40" lengthAdjust="spacingAndGlyphs">20.00</text>
<line x1="599.36" y1="379" x2="599.36" y2="382.5" stroke="#444" stroke-width="0.9"/>
<text x="599.36" y="390.60" font-size="9" text-anchor="middle" font-weight="normal" textLength="13.40" lengthAdjust="spacingAndGlyphs">22.00</text>
<line x1="624.28" y1="379" x2="624.28" y2="382.5" stroke="#444" stroke-width="0.9"/>
<text x="624.28" y="390.60" font-size="9" text-anchor="middle" font-weight="normal" textLength="13.40" lengthAdjust="spacingAndGlyphs">24.00</text>
<line x1="649.20" y1="379" x2="649.20" y2="382.5" stroke="#444" stroke-width="0.9"/>
<text x="649.20" y="390.60" font-size="9" text-anchor="middle" font-weight="normal" textLength="13.40" lengthAdjust="spacingAndGlyphs">26.00</text>
<line x1="674.12" y1="379" x2="674.12" y2="382.5" stroke="#444" stroke-width="0.9"/>
<text x="674.12" y="390.60" font-size="9" text-anchor="middle" font-weight="normal" textLength="13.40" lengthAdjust="spacingAndGlyphs">28.00</text>
<text x="630.10" y="403.70" font-size="8.4" text-anchor="start" font-weight="normal" textLength="52.80" lengthAdjust="spacingAndGlyphs">Acquisition Time (min)</text>
<text x="342.40" y="408.50" font-size="16" style="stroke-width:0.45px" textLength="17.80" lengthAdjust="spacingAndGlyphs">(d)</text>
<polyline fill="none" stroke="#000" stroke-width="1.05" stroke-linejoin="miter" stroke-miterlimit="3" points="388.50,369.56 388.70,369.85 388.90,370.15 389.10,370.44 389.30,370.73 389.50,371.02 389.70,371.26 389.90,371.43 390.10,371.62 390.30,371.83 390.50,372.03 390.70,372.24 390.90,372.49 391.10,372.74 391.30,373.00 391.50,373.25 391.70,373.50 391.90,373.70 392.10,373.75 392.30,373.71 392.50,373.68 392.70,373.64 392.90,373.61 393.10,373.71 393.30,373.82 393.50,373.93 393.70,374.04 393.90,374.15 394.10,374.23 394.30,374.27 394.50,374.32 394.70,374.36 394.90,374.41 395.10,374.43 395.30,374.34 395.50,374.26 395.70,374.18 395.90,374.09 396.10,374.01 396.30,373.99 396.50,374.03 396.70,374.08 396.90,374.12 397.10,374.17 397.30,374.21 397.50,374.23 397.70,374.24 397.90,374.26 398.10,374.28 398.30,374.27 398.50,374.07 398.70,373.46 398.90,372.19 399.10,370.29 399.30,368.44 399.50,367.65 399.70,368.44 399.90,370.29 400.10,372.18 400.30,373.45 400.50,374.06 400.70,374.36 400.90,374.58 401.10,374.76 401.30,374.93 401.50,375.10 401.70,375.26 401.90,375.29 402.10,375.31 402.30,375.34 402.50,375.36 402.70,375.39 402.90,375.42 403.10,375.44 403.30,375.45 403.50,375.46 403.70,375.47 403.90,375.48 404.10,375.46 404.30,375.44 404.50,375.42 404.70,375.40 404.90,375.38 405.10,375.37 405.30,375.38 405.50,375.40 405.70,375.41 405.90,375.42 406.10,375.43 406.30,375.30 406.50,375.16 406.70,375.02 406.90,374.89 407.10,374.75 407.30,374.71 407.50,374.76 407.70,374.81 407.90,374.86 408.10,374.91 408.30,374.96 408.50,375.05 408.70,375.14 408.90,375.23 409.10,375.33 409.30,375.42 409.50,375.45 409.70,375.42 409.90,375.39 410.10,375.36 410.30,375.33 410.50,375.30 410.70,375.16 410.90,374.78 411.10,373.70 411.30,371.33 411.50,367.87 411.70,365.11 411.80,364.70 411.90,365.09 412.10,367.78 412.30,371.11 412.50,373.37 412.70,374.35 412.90,374.61 413.10,374.63 413.30,374.60 413.50,374.56 413.70,374.52 413.90,374.54 414.10,374.59 414.30,374.51 414.50,374.10 414.70,373.35 414.90,372.69 415.00,372.50 415.10,372.54 415.30,373.13 415.50,373.82 415.70,374.16 415.90,374.18 416.10,374.15 416.30,374.18 416.50,374.21 416.70,374.24 416.90,374.25 417.10,374.20 417.30,373.79 417.50,372.51 417.70,369.67 417.90,365.50 418.10,362.13 418.20,361.61 418.30,362.17 418.50,365.63 418.70,369.89 418.90,372.82 419.10,374.19 419.30,374.69 419.50,374.63 419.70,374.50 419.90,374.36 420.10,374.21 420.30,374.07 420.50,374.01 420.70,374.01 420.90,373.91 421.10,373.65 421.30,373.34 421.50,373.25 421.70,373.53 421.90,374.03 422.10,374.44 422.30,374.66 422.50,374.77 422.70,374.85 422.90,374.91 423.10,374.88 423.30,374.77 423.50,374.65 423.70,374.53 423.90,374.49 424.10,374.45 424.30,374.37 424.50,374.20 424.70,373.88 424.90,373.44 425.10,373.17 425.30,373.29 425.50,373.60 425.70,373.83 425.90,373.90 426.10,373.86 426.30,373.78 426.50,373.71 426.70,373.63 426.90,373.55 427.10,373.49 427.30,373.44 427.50,373.39 427.70,373.34 427.90,373.30 428.10,373.25 428.30,373.16 428.50,373.06 428.70,372.95 428.90,372.76 429.10,372.23 429.30,370.83 429.50,367.63 429.70,361.99 429.90,355.08 430.10,350.08 430.20,349.35 430.30,350.05 430.50,354.85 430.70,361.57 430.90,367.00 431.10,370.00 431.30,371.15 431.50,371.39 431.70,371.57 431.90,371.68 432.10,371.78 432.30,371.87 432.50,371.96 432.70,372.16 432.90,372.36 433.10,372.46 433.30,372.44 433.50,372.42 433.70,372.33 433.90,372.16 434.10,372.00 434.30,371.83 434.50,371.66 434.70,371.50 434.90,371.54 435.10,371.59 435.30,371.64 435.50,371.68 435.70,371.73 435.90,371.68 436.10,371.55 436.30,371.41 436.50,371.27 436.70,371.14 436.90,371.00 437.10,370.98 437.30,370.97 437.50,370.95 437.70,370.93 437.90,370.92 438.10,370.89 438.30,370.85 438.50,370.80 438.70,370.76 438.90,370.72 439.10,370.68 439.30,370.82 439.50,370.96 439.70,371.11 439.90,371.25 440.10,371.39 440.30,371.46 440.50,371.48 440.70,371.49 440.90,371.50 441.10,371.53 441.30,371.57 441.50,371.56 441.70,371.55 441.90,371.54 442.10,371.53 442.30,371.52 442.50,371.57 442.70,371.66 442.90,371.68 443.10,371.39 443.30,370.57 443.50,369.24 443.70,367.57 443.90,366.32 444.00,366.06 444.10,366.11 444.30,366.97 444.50,368.23 444.70,369.29 444.90,369.92 445.10,370.15 445.30,370.20 445.50,370.17 445.70,370.12 445.90,369.86 446.10,369.60 446.30,369.33 446.50,369.07 446.70,368.80 446.90,368.56 447.10,368.37 447.30,368.20 447.50,368.04 447.70,367.87 447.90,367.69 448.10,367.53 448.30,367.15 448.50,366.23 448.70,364.42 448.90,361.76 449.10,359.16 449.30,358.01 449.50,359.01 449.70,361.46 449.90,363.97 450.10,365.62 450.30,366.36 450.50,366.55 450.70,366.84 450.90,367.07 451.10,367.28 451.30,367.45 451.50,367.58 451.70,367.71 451.90,367.84 452.10,367.97 452.30,368.11 452.50,368.25 452.70,368.39 452.90,368.53 453.10,368.53 453.30,368.39 453.50,368.32 453.70,368.33 453.90,368.34 454.10,368.35 454.30,368.36 454.50,368.37 454.70,368.24 454.90,368.12 455.10,368.00 455.30,367.87 455.50,367.75 455.70,367.68 455.90,367.65 456.10,367.56 456.30,367.39 456.50,367.23 456.70,367.06 456.90,366.83 457.10,366.59 457.30,366.36 457.50,366.11 457.70,365.83 457.90,365.01 458.10,362.65 458.30,357.52 458.50,350.04 458.70,343.98 458.80,343.01 458.90,343.79 459.10,349.48 459.30,356.59 459.50,361.36 459.70,363.35 459.90,363.83 460.10,363.97 460.30,364.17 460.50,364.35 460.70,364.52 460.90,364.70 461.10,364.88 461.30,365.05 461.50,365.22 461.70,365.39 461.90,365.56 462.10,365.61 462.30,365.56 462.50,365.54 462.70,365.52 462.90,365.50 463.10,365.48 463.30,365.46 463.50,365.35 463.70,365.23 463.90,365.11 464.10,365.01 464.30,364.92 464.50,364.82 464.70,364.57 464.90,363.88 465.10,362.36 465.30,360.15 465.50,358.37 465.60,358.07 465.70,358.29 465.90,359.95 466.10,362.03 466.30,363.41 466.50,363.98 466.70,364.16 466.90,364.26 467.10,364.32 467.30,364.36 467.50,364.41 467.70,364.45 467.90,364.40 468.10,364.36 468.30,364.31 468.50,364.21 468.70,363.95 468.90,363.23 469.10,362.01 469.30,360.92 469.40,360.69 469.50,360.75 469.70,361.51 469.90,362.39 470.10,363.06 470.30,363.33 470.50,363.43 470.70,363.49 470.90,363.54 471.10,363.45 471.30,363.11 471.50,362.43 471.70,361.37 471.90,360.42 472.00,360.23 472.10,360.28 472.30,361.00 472.50,361.84 472.70,362.29 472.90,362.41 473.10,362.38 473.30,362.35 473.50,362.37 473.70,362.38 473.90,362.39 474.10,362.26 474.30,361.99 474.50,361.67 474.70,361.35 474.90,361.03 475.10,360.70 475.30,360.33 475.50,359.75 475.70,358.72 475.90,357.16 476.10,355.84 476.20,355.59 476.30,355.68 476.50,356.62 476.70,357.63 476.90,357.33 477.10,355.78 477.30,354.40 477.40,354.10 477.50,354.17 477.70,355.64 477.90,357.33 478.10,358.46 478.30,359.09 478.50,359.52 478.70,359.89 478.90,360.06 479.10,359.82 479.30,359.18 479.50,358.54 479.70,357.89 479.90,357.30 480.10,356.91 480.30,356.39 480.50,354.67 480.70,350.12 480.90,341.82 481.10,332.48 481.30,328.18 481.50,332.35 481.70,341.55 481.90,349.66 482.10,353.95 482.30,355.35 482.50,355.56 482.70,355.47 482.90,355.32 483.10,355.16 483.30,355.15 483.50,355.11 483.70,354.94 483.90,354.32 484.10,352.61 484.30,349.37 484.50,345.63 484.70,343.82 484.90,345.27 485.10,348.66 485.30,351.62 485.50,353.24 485.70,353.78 485.90,353.85 486.10,354.26 486.30,355.13 486.50,356.01 486.70,356.91 486.90,357.81 487.10,358.23 487.30,358.18 487.50,358.12 487.70,357.99 487.90,357.86 488.10,357.73 488.30,357.60 488.50,357.47 488.70,357.37 488.90,357.32 489.10,357.26 489.30,357.20 489.50,357.14 489.70,357.08 489.90,356.97 490.10,356.96 490.30,357.05 490.50,357.13 490.70,357.21 490.90,357.28 491.10,357.33 491.30,357.38 491.50,357.43 491.70,357.47 491.90,357.52 492.10,357.38 492.30,357.11 492.50,356.84 492.70,356.58 492.90,356.31 493.10,356.11 493.30,355.96 493.50,355.82 493.70,355.67 493.90,355.53 494.10,355.39 494.30,355.30 494.50,355.21 494.70,355.13 494.90,355.04 495.10,354.95 495.30,354.82 495.50,354.66 495.70,354.49 495.90,354.32 496.10,354.25 496.30,354.27 496.50,354.32 496.70,354.37 496.90,354.41 497.10,354.46 497.30,354.50 497.50,354.58 497.70,354.69 497.90,354.80 498.10,354.80 498.30,354.70 498.50,354.60 498.70,354.40 498.90,354.20 499.10,354.34 499.30,354.80 499.50,355.26 499.70,355.75 499.90,356.21 500.10,355.98 500.30,354.78 500.50,352.75 500.70,349.95 500.90,347.19 501.10,345.76 501.30,346.32 501.50,348.20 501.70,350.13 501.90,351.22 502.10,351.44 502.30,351.15 502.50,350.67 502.70,351.78 502.90,352.88 503.10,354.01 503.30,355.13 503.50,356.26 503.70,356.20 503.90,356.12 504.10,356.04 504.30,355.80 504.50,355.12 504.70,354.09 504.90,353.27 505.00,353.18 505.10,353.36 505.30,354.20 505.50,355.25 505.70,355.95 505.90,356.21 506.10,356.26 506.30,356.31 506.50,356.39 506.70,356.46 506.90,356.53 507.10,356.56 507.30,356.32 507.50,355.04 507.70,351.51 507.90,344.97 508.10,337.56 508.30,334.16 508.50,337.60 508.70,345.11 508.90,351.75 509.10,355.38 509.30,356.75 509.50,357.17 509.70,357.45 509.90,357.69 510.10,357.92 510.30,358.14 510.50,358.37 510.70,358.54 510.90,358.64 511.10,358.72 511.30,358.75 511.50,358.79 511.70,358.83 511.90,358.93 512.10,359.03 512.30,359.14 512.50,359.24 512.70,359.34 512.90,359.49 513.10,359.67 513.30,359.82 513.50,359.96 513.70,360.11 513.90,360.26 514.10,360.37 514.30,360.49 514.50,360.60 514.70,360.71 514.90,360.81 515.10,360.60 515.30,359.92 515.50,358.81 515.70,357.32 515.90,356.05 516.00,355.75 516.10,355.72 516.30,356.56 516.50,357.62 516.70,358.30 516.90,358.55 517.10,358.68 517.30,358.81 517.50,358.87 517.70,358.93 517.90,358.99 518.10,359.05 518.30,359.11 518.50,359.05 518.70,358.99 518.90,358.93 519.10,358.89 519.30,358.86 519.50,358.89 519.70,358.99 519.90,359.08 520.10,359.18 520.30,359.27 520.50,359.37 520.70,359.53 520.90,359.69 521.10,359.84 521.30,359.98 521.50,360.13 521.70,360.23 521.90,360.30 522.10,360.36 522.30,360.43 522.50,360.50 522.70,360.56 522.90,360.67 523.10,360.76 523.30,360.84 523.50,360.93 523.70,361.01 523.90,361.08 524.10,361.14 524.30,361.20 524.50,361.26 524.70,361.32 524.90,361.38 525.10,361.34 525.30,361.30 525.50,361.26 525.70,361.22 525.90,361.18 526.10,361.19 526.30,361.24 526.50,361.30 526.70,361.35 526.90,361.41 527.10,361.44 527.30,361.44 527.50,361.44 527.70,361.44 527.90,361.44 528.10,361.44 528.30,361.48 528.50,361.57 528.70,361.61 528.90,361.42 529.10,360.56 529.30,358.47 529.50,355.20 529.70,352.56 529.80,352.15 529.90,352.51 530.10,355.06 530.30,358.23 530.50,360.38 530.70,361.30 530.90,361.56 531.10,361.50 531.30,361.29 531.50,361.04 531.70,360.58 531.90,358.98 532.10,354.01 532.30,342.87 532.50,326.51 532.70,313.30 532.80,311.28 532.90,313.15 533.10,326.04 533.30,342.09 533.50,352.91 533.70,357.57 533.90,358.80 534.10,359.07 534.30,359.26 534.50,359.41 534.70,359.51 534.90,359.46 535.10,358.86 535.30,357.25 535.50,355.13 535.70,354.21 535.90,355.58 536.10,358.09 536.30,360.09 536.50,361.09 536.70,361.49 536.90,361.70 537.10,361.84 537.30,361.93 537.50,361.97 537.70,361.78 537.90,360.82 538.10,358.60 538.30,355.72 538.50,354.37 538.70,355.92 538.90,358.99 539.10,361.41 539.30,362.51 539.50,362.81 539.70,362.86 539.90,362.87 540.10,362.95 540.30,363.10 540.50,363.28 540.70,363.47 540.90,363.65 541.10,363.84 541.30,364.02 541.50,364.27 541.70,364.57 541.90,364.88 542.10,365.07 542.30,365.16 542.50,365.25 542.70,365.26 542.90,365.27 543.10,365.29 543.30,365.30 543.50,365.31 543.70,365.29 543.90,365.04 544.10,363.71 544.30,359.29 544.50,349.28 544.70,334.55 544.90,322.52 545.00,320.64 545.10,322.30 545.30,333.89 545.50,348.33 545.70,358.05 545.90,362.29 546.10,363.56 546.30,363.80 546.50,363.81 546.70,363.97 546.90,364.13 547.10,364.29 547.30,364.45 547.50,364.60 547.70,364.68 547.90,364.51 548.10,363.70 548.30,362.04 548.50,360.16 548.70,359.33 548.90,360.29 549.10,362.31 549.30,364.13 549.50,365.16 549.70,365.60 549.90,365.78 550.10,365.86 550.30,365.89 550.50,365.93 550.70,365.96 550.90,366.00 551.10,366.04 551.30,366.08 551.50,366.10 551.70,366.12 551.90,366.15 552.10,366.17 552.30,366.19 552.50,366.23 552.70,366.28 552.90,366.34 553.10,366.34 553.30,366.30 553.50,366.25 553.70,366.12 553.90,365.99 554.10,365.86 554.30,365.73 554.50,365.59 554.70,365.49 554.90,365.41 555.10,365.32 555.30,365.24 555.50,365.16 555.70,365.08 555.90,364.96 556.10,364.85 556.30,364.73 556.50,364.62 556.70,364.51 556.90,364.42 557.10,364.35 557.30,364.18 557.50,363.43 557.70,360.57 557.90,352.75 558.10,338.12 558.30,321.39 558.50,313.50 558.70,320.57 558.90,336.48 559.10,350.47 559.30,357.83 559.50,360.21 559.70,360.49 559.90,360.19 560.10,359.69 560.30,358.91 560.50,358.10 560.70,357.19 560.90,355.86 561.10,353.56 561.30,350.03 561.50,346.18 561.70,344.05 561.90,344.85 562.10,347.38 562.30,349.55 562.50,350.55 562.70,350.02 562.90,348.29 563.10,346.49 563.30,345.75 563.50,346.40 563.70,347.71 563.90,348.69 564.10,349.01 564.30,348.90 564.50,348.41 564.70,347.47 564.90,345.41 565.10,342.39 565.30,339.93 565.40,339.52 565.50,339.82 565.70,342.04 565.90,344.80 566.10,346.63 566.30,347.34 566.50,347.39 566.70,346.81 566.90,345.10 567.10,341.33 567.30,335.84 567.50,331.39 567.60,330.68 567.70,331.27 567.90,335.50 568.10,340.78 568.30,344.32 568.50,345.82 568.70,346.19 568.90,346.18 569.10,346.09 569.30,345.91 569.50,345.74 569.70,345.56 569.90,345.39 570.10,345.45 570.30,345.77 570.50,346.08 570.70,346.37 570.90,346.61 571.10,346.53 571.30,345.37 571.50,342.56 571.70,338.37 571.90,335.01 572.00,334.55 572.10,335.13 572.30,338.83 572.50,343.47 572.70,346.73 572.90,348.34 573.10,349.05 573.30,349.45 573.50,349.61 573.70,349.76 573.90,349.91 574.10,350.06 574.30,350.21 574.50,350.37 574.70,350.56 574.90,350.75 575.10,350.93 575.30,351.11 575.50,351.29 575.70,351.52 575.90,351.76 576.10,352.00 576.30,352.24 576.50,352.48 576.70,352.72 576.90,352.96 577.10,353.21 577.30,353.46 577.50,353.71 577.70,353.97 577.90,354.19 578.10,354.42 578.30,353.33 578.50,344.74 578.70,316.91 578.90,272.12 579.10,247.98 579.30,273.06 579.50,318.83 579.70,347.70 579.90,357.33 580.10,359.52 580.30,360.20 580.50,360.70 580.70,361.20 580.90,361.70 581.10,361.99 581.30,362.07 581.50,362.16 581.70,362.24 581.90,362.32 582.10,362.41 582.30,362.51 582.50,362.61 582.70,362.71 582.90,362.81 583.10,362.91 583.30,362.98 583.50,363.04 583.70,363.10 583.90,363.17 584.10,363.23 584.30,363.29 584.50,363.35 584.70,363.42 584.90,363.48 585.10,363.55 585.30,363.61 585.50,363.66 585.70,363.70 585.90,363.74 586.10,363.78 586.30,363.82 586.50,363.85 586.70,363.95 586.90,364.05 587.10,364.16 587.30,364.30 587.50,364.43 587.70,364.52 587.90,364.55 588.10,364.58 588.30,364.56 588.50,364.45 588.70,364.11 588.90,363.72 589.10,363.18 589.30,362.86 589.40,362.91 589.50,363.13 589.70,363.98 589.90,364.97 590.10,365.74 590.30,366.23 590.50,366.50 590.70,366.66 590.90,366.78 591.10,366.75 591.30,366.70 591.50,366.66 591.70,366.62 591.90,366.57 592.10,366.66 592.30,366.87 592.50,367.09 592.70,367.30 592.90,367.52 593.10,367.73 593.30,367.83 593.50,367.94 593.70,368.04 593.90,368.14 594.10,368.15 594.30,368.02 594.50,367.82 594.70,367.61 594.90,367.41 595.10,367.20 595.30,366.99 595.50,366.98 595.70,366.97 595.90,366.96 596.10,366.99 596.30,367.05 596.50,367.11 596.70,367.12 596.90,366.88 597.10,365.88 597.30,363.51 597.50,359.96 597.70,356.97 597.80,356.50 597.90,356.90 598.10,359.73 598.30,363.28 598.50,365.65 598.70,366.71 598.90,367.08 599.10,367.23 599.30,367.27 599.50,367.13 599.70,366.57 599.90,365.35 600.10,363.96 600.30,363.33 600.50,363.99 600.70,365.41 600.90,366.69 601.10,367.43 601.30,367.74 601.50,367.87 601.70,367.78 601.90,367.68 602.10,367.52 602.30,367.36 602.50,367.20 602.70,367.03 602.90,366.87 603.10,366.75 603.30,366.66 603.50,366.57 603.70,366.48 603.90,366.39 604.10,366.14 604.30,365.69 604.50,365.25 604.70,364.80 604.90,364.34 605.10,364.12 605.30,364.13 605.50,364.05 605.70,363.84 605.90,363.47 606.10,362.95 606.30,362.37 606.50,361.93 606.70,361.75 606.80,361.78 606.90,361.91 607.10,362.43 607.30,363.19 607.50,363.99 607.70,364.69 607.90,365.24 608.10,365.67 608.30,366.01 608.50,366.27 608.70,366.45 608.90,366.60 609.00,366.67 609.10,366.74 609.30,366.88 609.50,367.02 609.70,367.20 609.90,367.44 610.10,367.68 610.30,367.92 610.50,368.16 610.70,368.40 610.90,368.65 611.10,368.84 611.30,368.94 611.50,369.05 611.70,369.16 611.90,369.18 612.10,369.12 612.30,369.06 612.50,369.00 612.70,368.94 612.90,368.88 613.10,368.91 613.30,368.94 613.50,368.96 613.70,368.99 613.90,369.02 614.10,369.08 614.30,369.17 614.50,369.25 614.70,369.34 614.90,369.43 615.10,369.51 615.30,369.55 615.50,369.59 615.70,369.63 615.90,369.67 616.10,369.56 616.30,369.23 616.50,368.83 616.70,368.43 616.90,368.00 617.10,367.67 617.30,367.35 617.50,366.89 617.70,366.31 617.90,365.90 618.00,365.84 618.10,365.90 618.30,366.31 618.50,366.92 618.70,367.40 618.90,366.93 619.10,366.34 619.30,365.94 619.40,365.91 619.50,366.02 619.70,366.60 619.90,367.37 620.10,368.01 620.30,368.42 620.50,368.65 620.70,368.96 620.90,369.17 621.10,369.37 621.30,369.58 621.50,369.78 621.70,369.98 621.90,370.35 622.10,370.60 622.30,370.72 622.50,370.84 622.70,370.95 622.90,371.00 623.10,370.98 623.30,370.96 623.50,370.94 623.70,370.92 623.90,370.89 624.10,370.86 624.30,370.70 624.50,370.54 624.70,370.37 624.90,370.21 625.10,369.97 625.30,369.62 625.50,369.17 625.70,368.58 625.90,367.10 626.10,364.14 626.30,359.81 626.50,355.58 626.70,353.76 626.90,355.51 627.10,359.67 627.30,364.01 627.50,367.04 627.70,368.58 627.90,369.24 628.10,369.62 628.30,370.00 628.50,370.07 628.70,370.13 628.90,370.20 629.10,370.26 629.30,370.33 629.50,370.48 629.70,370.73 629.90,370.98 630.10,371.14 630.30,371.21 630.50,371.28 630.70,371.28 630.90,371.28 631.10,371.28 631.30,371.29 631.50,371.29 631.70,371.31 631.90,371.33 632.10,371.36 632.30,371.39 632.50,371.42 632.70,371.45 632.90,371.49 633.10,371.52 633.30,371.55 633.50,371.59 633.70,371.62 633.90,371.65 634.10,371.65 634.30,371.63 634.50,371.59 634.70,371.52 634.90,371.40 635.10,371.06 635.30,370.59 635.50,369.98 635.70,369.28 635.90,368.57 636.10,368.10 636.30,367.97 636.50,368.15 636.70,368.60 636.90,369.20 637.10,369.85 637.30,370.45 637.50,370.90 637.70,371.22 637.90,371.45 638.10,371.62 638.30,371.72 638.50,371.79 638.70,371.84 638.90,371.90 639.10,371.96 639.30,372.01 639.50,372.00 639.70,371.99 639.90,371.97 640.10,371.93 640.30,371.85 640.50,371.87 640.70,371.99 640.90,372.10 641.10,372.22 641.30,372.34 641.50,372.46 641.70,372.38 641.90,372.30 642.10,372.22 642.30,372.15 642.50,372.07 642.70,372.03 642.90,372.02 643.10,371.90 643.30,371.61 643.50,371.14 643.70,370.58 643.90,370.28 644.00,370.25 644.10,370.33 644.30,370.74 644.50,371.28 644.70,371.73 644.90,371.96 645.10,371.93 645.30,371.70 645.50,371.39 645.70,371.27 645.90,371.53 646.10,371.81 646.30,372.01 646.50,372.05 646.70,371.99 646.90,371.91 647.10,371.91 647.30,372.01 647.50,372.11 647.70,372.21 647.90,372.31 648.10,372.41 648.30,372.43 648.50,372.44 648.70,372.45 648.90,372.47 649.10,372.48 649.30,372.47 649.50,372.44 649.70,372.41 649.90,372.38 650.10,372.34 650.30,372.28 650.50,372.32 650.70,372.36 650.90,372.41 651.10,372.45 651.30,372.49 651.50,372.50 651.70,372.49 651.90,372.48 652.10,372.47 652.30,372.46 652.50,372.44 652.70,372.43 652.90,372.41 653.10,372.27 653.30,371.98 653.50,371.70 653.70,371.40 653.90,371.10 654.10,370.51 654.30,369.63 654.50,368.72 654.70,367.79 654.90,366.82 655.10,366.23 655.30,366.02 655.50,365.82 655.70,365.63 655.90,365.47 656.10,365.37 656.30,365.32 656.50,365.33 656.70,365.41 656.90,365.53 657.10,365.79 657.30,366.06 657.50,366.34 657.70,366.60 657.90,366.84 658.10,367.10 658.30,367.39 658.50,367.65 658.70,367.90 658.90,368.12 659.10,368.33 659.30,368.63 659.50,368.93 659.70,369.22 659.90,369.51 660.10,369.72 660.30,369.83 660.50,369.91 660.70,369.99 660.90,370.07 661.10,370.15 661.30,370.23 661.50,370.39 661.70,370.55 661.90,370.72 662.10,370.87 662.30,371.01 662.50,371.09 662.70,371.11 662.90,371.12 663.10,371.13 663.30,371.14 663.50,371.16 663.70,371.27 663.90,371.39 664.10,371.44 664.30,371.41 664.50,371.39 664.70,371.29 664.90,371.10 665.10,370.91 665.30,370.72 665.50,370.54 665.70,370.35 665.90,370.29 666.10,370.20 666.30,370.09 666.50,369.97 666.70,369.85 666.90,369.75 667.10,369.67 667.30,369.59 667.50,369.51 667.70,369.43 667.90,369.35 668.10,369.16 668.30,368.90 668.50,368.63 668.70,368.35 668.90,368.06 669.10,367.74 669.30,367.37 669.50,366.96 669.70,366.72 669.90,366.44 670.10,366.13 670.30,365.87 670.50,365.64 670.70,365.48 670.90,365.40 671.10,365.43 671.30,365.48 671.50,365.54 671.70,365.64 671.90,365.74 672.10,365.77 672.30,365.73 672.50,365.75 672.70,365.73 672.90,365.68 673.10,365.61 673.30,365.51 673.50,365.42 673.70,365.35 673.90,365.27 674.10,365.08 674.30,364.78 674.50,364.45 674.70,363.90 674.90,363.33 675.10,362.72 675.30,362.09 675.50,361.44 675.70,360.83 675.90,360.28 676.10,359.85 676.30,359.55 676.50,359.29 676.70,359.06 676.90,358.81 677.10,358.61 677.20,358.54 677.30,358.48 677.50,358.42 677.70,358.41 677.90,358.49 678.10,358.62 678.30,358.79 678.50,358.97 678.70,359.15 678.90,359.32 679.10,359.65 679.30,360.14 679.50,360.59 679.70,361.02 679.90,361.41 680.10,361.74 680.30,362.01 680.50,362.26 680.70,362.50 680.90,362.72 681.10,362.88 681.30,363.08 681.50,363.27 681.70,363.46 681.90,363.65 682.10,363.83 682.30,364.01 682.50,364.17 682.70,362.53 682.90,360.88 683.10,359.23 683.30,357.59 683.50,355.98" clip-path="url(#cdp)"/>
<clipPath id="cdp"><rect x="388.4" y="247.5" width="295.1" height="130.5"/></clipPath>
</svg>
</body></html>
